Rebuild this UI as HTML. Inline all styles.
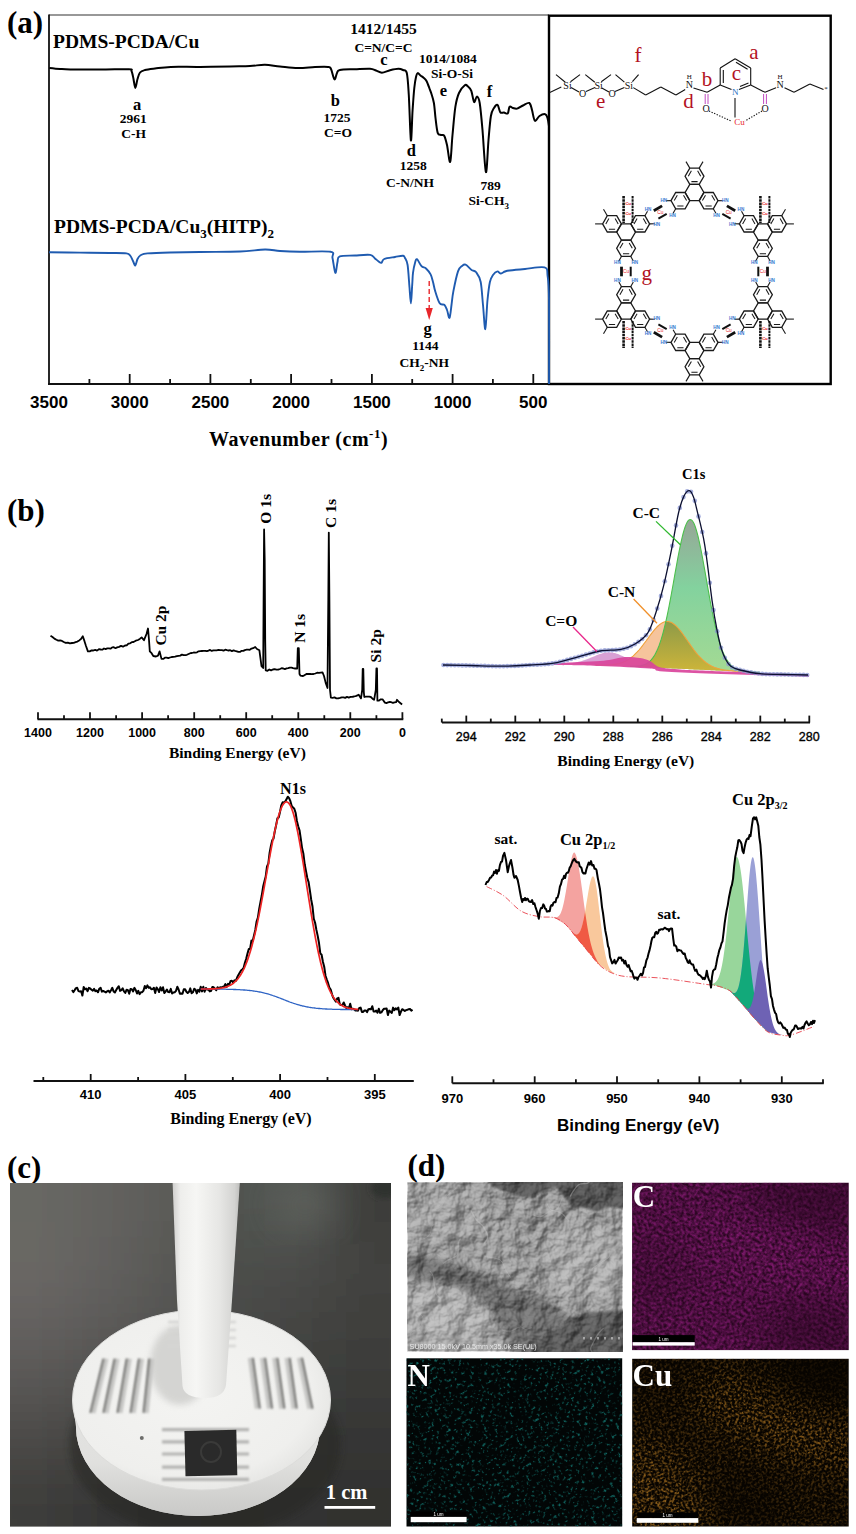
<!DOCTYPE html>
<html><head><meta charset="utf-8"><title>Figure</title>
<style>html,body{margin:0;padding:0;background:#fff;}body{width:856px;height:1534px;overflow:hidden;}
svg{display:block;}</style></head>
<body><svg width="856" height="1534" viewBox="0 0 856 1534">
<rect width="856" height="1534" fill="#fff"/>
<text x="7" y="33" font-family='"Liberation Serif", serif' font-size="31" font-weight="bold" text-anchor="start" fill="#000" >(a)</text>
<line x1="49" y1="15" x2="549" y2="15" stroke="#333" stroke-width="1.1"/>
<line x1="49" y1="14.5" x2="49" y2="385" stroke="#111" stroke-width="1.8"/>
<line x1="48" y1="384" x2="549" y2="384" stroke="#111" stroke-width="1.8"/>
<rect x="549" y="15.7" width="281.7" height="368.3" fill="none" stroke="#000" stroke-width="2.4"/>
<line x1="89.4" y1="379" x2="89.4" y2="384" stroke="#111" stroke-width="1.8"/>
<line x1="129.7" y1="374" x2="129.7" y2="384" stroke="#111" stroke-width="1.8"/>
<line x1="170.1" y1="379" x2="170.1" y2="384" stroke="#111" stroke-width="1.8"/>
<line x1="210.4" y1="374" x2="210.4" y2="384" stroke="#111" stroke-width="1.8"/>
<line x1="250.8" y1="379" x2="250.8" y2="384" stroke="#111" stroke-width="1.8"/>
<line x1="291.1" y1="374" x2="291.1" y2="384" stroke="#111" stroke-width="1.8"/>
<line x1="331.5" y1="379" x2="331.5" y2="384" stroke="#111" stroke-width="1.8"/>
<line x1="371.9" y1="374" x2="371.9" y2="384" stroke="#111" stroke-width="1.8"/>
<line x1="412.2" y1="379" x2="412.2" y2="384" stroke="#111" stroke-width="1.8"/>
<line x1="452.6" y1="374" x2="452.6" y2="384" stroke="#111" stroke-width="1.8"/>
<line x1="492.9" y1="379" x2="492.9" y2="384" stroke="#111" stroke-width="1.8"/>
<line x1="533.3" y1="374" x2="533.3" y2="384" stroke="#111" stroke-width="1.8"/>
<text x="49" y="407.7" font-family='"Liberation Sans", sans-serif' font-size="17" font-weight="bold" text-anchor="middle" fill="#000" >3500</text>
<text x="129.7" y="407.7" font-family='"Liberation Sans", sans-serif' font-size="17" font-weight="bold" text-anchor="middle" fill="#000" >3000</text>
<text x="210.4" y="407.7" font-family='"Liberation Sans", sans-serif' font-size="17" font-weight="bold" text-anchor="middle" fill="#000" >2500</text>
<text x="291.1" y="407.7" font-family='"Liberation Sans", sans-serif' font-size="17" font-weight="bold" text-anchor="middle" fill="#000" >2000</text>
<text x="371.9" y="407.7" font-family='"Liberation Sans", sans-serif' font-size="17" font-weight="bold" text-anchor="middle" fill="#000" >1500</text>
<text x="452.6" y="407.7" font-family='"Liberation Sans", sans-serif' font-size="17" font-weight="bold" text-anchor="middle" fill="#000" >1000</text>
<text x="533.3" y="407.7" font-family='"Liberation Sans", sans-serif' font-size="17" font-weight="bold" text-anchor="middle" fill="#000" >500</text>
<text x="209" y="446" font-family='"Liberation Serif", serif' font-size="20" font-weight="bold" text-anchor="start" fill="#000" letter-spacing="0.55">Wavenumber (cm<tspan dy="-8" font-size="13">-1</tspan><tspan dy="8">)</tspan></text>
<path d="M49.3 68 C51.1 68.2 56.5 68.8 60 69 C63.5 69.2 63.7 69.3 70.4 69.4 C77.1 69.5 90.3 69.6 100 69.6 C109.7 69.6 123.6 69 128.8 69.2 C134.1 69.4 130.7 69.4 131.5 71 C132.3 72.6 132.9 76.2 133.5 79 C134.1 81.8 134.6 87.9 135.3 87.9 C136 87.9 136.7 81.6 137.5 79 C138.3 76.4 138.8 74 140 72.5 C141.2 71 142.5 70.7 145 70 C147.5 69.3 150.7 69 155 68.5 C159.3 68 163.3 67.2 170.8 66.9 C178.3 66.6 190.1 67 200 66.9 C209.9 66.8 221.7 66.6 230 66.4 C238.3 66.2 244.2 66.3 250 66 C255.8 65.7 260 64.7 265 64.8 C270 64.9 274.5 66 280 66.5 C285.5 67 292 67.9 297.8 68 C303.6 68.1 310 67.2 315 67 C320 66.8 325.3 66.6 328 66.9 C330.7 67.2 329.9 66.9 331 69 C332.1 71.1 333.4 78.6 334.4 79.3 C335.4 80 336.1 74.6 337 73 C337.9 71.4 336.8 70.5 339.8 69.9 C342.8 69.3 350 69.4 355 69.2 C360 69 366.5 68.5 370 68.7 C373.5 68.9 374 69.8 376 70.5 C378 71.2 379.6 72.7 381.9 72.7 C384.2 72.7 387.2 71 390 70.3 C392.8 69.6 396.2 68.8 398.4 68.8 C400.6 68.8 401.6 69.3 403 70 C404.4 70.7 405.8 68.8 406.8 73 C407.8 77.2 408.1 83.8 408.8 95 C409.5 106.2 410.3 137.9 410.9 140.4 C411.5 142.9 412 118.7 412.6 110 C413.2 101.3 413.7 93.5 414.3 88 C414.9 82.5 415.4 79.5 416 77 C416.6 74.5 416.9 73.3 417.7 73.1 C418.4 72.8 419.5 74.7 420.5 75.5 C421.5 76.3 422.6 76.9 423.6 77.8 C424.6 78.7 425.6 79.3 426.5 81 C427.4 82.7 428.5 85.8 429.3 88 C430.1 90.2 430.7 91.5 431.5 94 C432.3 96.5 433.2 99 433.9 103 C434.6 107 434.9 113 435.5 118 C436.1 123 436.8 130.1 437.7 132.9 C438.6 135.7 439.9 134.5 441 135 C442.1 135.5 443.2 134 444.2 135.7 C445.2 137.4 446 140.6 447 145 C448 149.4 449.3 163.6 450.2 161.9 C451.1 160.2 451.6 144.2 452.5 135 C453.4 125.8 454.3 113.7 455.4 106.7 C456.5 99.7 457.4 96.6 459 93 C460.6 89.4 463.3 86.3 464.8 85.2 C466.3 84.1 466.9 85.6 468 86.5 C469.1 87.4 470.3 88.2 471.3 90.8 C472.3 93.4 473.2 101.1 474.1 102 C475 102.9 476 96.2 476.9 96.4 C477.8 96.6 478.8 97.4 479.7 103 C480.6 108.6 481.5 118.5 482.5 130 C483.5 141.5 484.9 170.4 485.9 172.1 C486.9 173.8 487.7 149.3 488.5 140 C489.3 130.7 490 121.3 490.9 116 C491.8 110.7 492.9 109.8 494 108 C495.1 106.2 496.4 104.2 497.5 104.9 C498.6 105.6 499.2 111 500.3 112.3 C501.4 113.6 502.8 112.3 504 112.5 C505.2 112.7 506.9 114.3 507.8 113.3 C508.7 112.3 508.7 107.6 509.6 106.7 C510.5 105.8 511.8 107.7 513 108 C514.2 108.3 515.4 109 517.1 108.6 C518.8 108.2 521 106.4 523 105.5 C525 104.6 527.8 102.2 529.3 103 C530.8 103.8 531.1 107 532 110 C532.9 113 533.6 119.7 534.9 120.7 C536.1 121.7 537.8 117.1 539.5 116 C541.2 114.9 543.8 113.9 545.1 114.2 C546.4 114.5 546.9 116 547.5 118 C548.1 120 548.8 124.7 549 126" fill="none" stroke="#000" stroke-width="2" stroke-linejoin="round"/>
<path d="M49 252.2 C54.2 252.3 69.8 252.5 80 252.6 C90.2 252.7 102.3 252.9 110 253 C117.7 253.1 123 252.9 126.4 253.4 C129.8 253.9 129.4 254.7 130.5 256 C131.6 257.3 132.2 259.4 133 261 C133.8 262.6 134.6 265.8 135.3 265.5 C136.1 265.2 136.6 260.8 137.5 259 C138.4 257.2 139.3 255.9 141 255 C142.7 254.1 142.7 253.8 147.5 253.4 C152.3 253 161.2 252.7 170 252.5 C178.8 252.3 188.3 252.2 200 252 C211.7 251.8 229.2 251.9 240 251.5 C250.8 251.1 258.3 249.6 265 249.5 C271.7 249.4 274.2 250.6 280 251 C285.8 251.4 291.6 251.7 300 251.8 C308.4 251.9 325.1 250.8 330.5 251.8 C335.9 252.8 331.7 254.5 332.5 258 C333.3 261.5 334.5 272.2 335.3 272.9 C336.1 273.6 336.8 264.8 337.5 262 C338.2 259.2 336.9 257.5 339.8 256.4 C342.7 255.3 349.9 255.8 355 255.5 C360.1 255.2 366.9 254.4 370.2 254.9 C373.5 255.4 373.6 257.4 374.9 258.4 C376.2 259.4 376.9 260.3 378 261 C379.1 261.7 380.4 263.1 381.4 262.8 C382.4 262.5 381.9 260 384.2 259 C386.5 258 391.9 257.5 395 257 C398.1 256.5 401.2 255.6 402.9 255.8 C404.6 256 404.2 256.5 405 258 C405.8 259.5 406.9 260.5 407.6 265 C408.3 269.5 408.8 278.6 409.3 285 C409.9 291.4 410.4 303.3 410.9 303.3 C411.4 303.3 411.8 290.1 412.2 285 C412.6 279.9 412.5 276.6 413 272.9 C413.5 269.2 414.3 265.3 415 263 C415.7 260.7 415.9 258.7 417 259.2 C418.1 259.7 420 264.6 421.5 266.2 C423 267.8 424.5 267.1 426 268.5 C427.5 269.9 429.4 272.1 430.6 274.4 C431.8 276.6 432.2 279.2 433 282 C433.8 284.8 434.1 287.6 435.2 291.1 C436.3 294.7 438.2 301 439.7 303.3 C441.2 305.6 443.1 303.7 444.3 304.8 C445.5 305.9 446.1 307.8 447 310 C447.9 312.2 448.8 318.7 449.5 317.9 C450.2 317.1 450.9 309.5 451.5 305 C452.1 300.5 452.3 296.7 453.4 291.1 C454.5 285.5 456.6 275.6 458 271.4 C459.4 267.2 460.7 267.1 462 266 C463.3 264.9 464 264.1 465.6 264.7 C467.2 265.3 469.8 268.6 471.6 269.9 C473.4 271.2 474.7 270.3 476.2 272.3 C477.7 274.3 479.6 276.6 480.7 282 C481.8 287.4 482.2 297.1 483 305 C483.8 312.9 484.6 329.9 485.3 329.1 C486.1 328.3 486.7 307.9 487.5 300 C488.3 292.1 489 286.2 489.9 282 C490.8 277.8 491.8 276.8 493 275 C494.2 273.2 496.1 271.6 497.4 271.4 C498.6 271.1 499.2 273.5 500.5 273.5 C501.8 273.5 503.5 272 505 271.5 C506.5 271 506.3 270.9 509.6 270.5 C512.9 270.1 519.2 269.5 525 269 C530.8 268.5 540.7 266.2 544.5 267.4 C548.3 268.6 546.9 270.6 547.6 276 C548.4 281.4 548.8 282 549 300 C549.2 318 549 370 549 384" fill="none" stroke="#1f5bb0" stroke-width="1.9" stroke-linejoin="round"/>
<line x1="429.2" y1="281" x2="429.2" y2="311" stroke="#e8262b" stroke-width="1.4" stroke-dasharray="5 3"/>
<path d="M425.6 308 L432.8 308 L429.2 320 Z" fill="#e8262b"/>
<text x="53" y="47.6" font-family='"Liberation Serif", serif' font-size="19.5" font-weight="bold" text-anchor="start" fill="#000" >PDMS-PCDA/Cu</text>
<text x="54" y="232.5" font-family='"Liberation Serif", serif' font-size="19.5" font-weight="bold" text-anchor="start" fill="#000" >PDMS-PCDA/Cu<tspan dy="5" font-size="13">3</tspan><tspan dy="-5">(HITP)</tspan><tspan dy="5" font-size="13">2</tspan></text>
<text x="137" y="109.6" font-family='"Liberation Serif", serif' font-size="16.5" font-weight="bold" text-anchor="middle" fill="#000" >a</text>
<text x="133.2" y="123.2" font-family='"Liberation Serif", serif' font-size="13.5" font-weight="bold" text-anchor="middle" fill="#000" >2961</text>
<text x="133.6" y="137.7" font-family='"Liberation Serif", serif' font-size="13.5" font-weight="bold" text-anchor="middle" fill="#000" >C-H</text>
<text x="335.4" y="105.7" font-family='"Liberation Serif", serif' font-size="16.5" font-weight="bold" text-anchor="middle" fill="#000" >b</text>
<text x="337" y="121.5" font-family='"Liberation Serif", serif' font-size="13.5" font-weight="bold" text-anchor="middle" fill="#000" >1725</text>
<text x="338" y="137.3" font-family='"Liberation Serif", serif' font-size="13.5" font-weight="bold" text-anchor="middle" fill="#000" >C=O</text>
<text x="383.5" y="34" font-family='"Liberation Serif", serif' font-size="15.5" font-weight="bold" text-anchor="middle" fill="#000" >1412/1455</text>
<text x="383.5" y="52.2" font-family='"Liberation Serif", serif' font-size="13.5" font-weight="bold" text-anchor="middle" fill="#000" >C=N/C=C</text>
<text x="383.8" y="64.7" font-family='"Liberation Serif", serif' font-size="16.5" font-weight="bold" text-anchor="middle" fill="#000" >c</text>
<text x="448" y="62.9" font-family='"Liberation Serif", serif' font-size="13.5" font-weight="bold" text-anchor="middle" fill="#000" >1014/1084</text>
<text x="452" y="77.5" font-family='"Liberation Serif", serif' font-size="13.5" font-weight="bold" text-anchor="middle" fill="#000" >Si-O-Si</text>
<text x="443.5" y="95.7" font-family='"Liberation Serif", serif' font-size="16.5" font-weight="bold" text-anchor="middle" fill="#000" >e</text>
<text x="489.4" y="97.2" font-family='"Liberation Serif", serif' font-size="16.5" font-weight="bold" text-anchor="middle" fill="#000" >f</text>
<text x="411.4" y="155.5" font-family='"Liberation Serif", serif' font-size="16.5" font-weight="bold" text-anchor="middle" fill="#000" >d</text>
<text x="413.2" y="170.1" font-family='"Liberation Serif", serif' font-size="13.5" font-weight="bold" text-anchor="middle" fill="#000" >1258</text>
<text x="410" y="186.8" font-family='"Liberation Serif", serif' font-size="13.5" font-weight="bold" text-anchor="middle" fill="#000" >C-N/NH</text>
<text x="490.6" y="189.9" font-family='"Liberation Serif", serif' font-size="13.5" font-weight="bold" text-anchor="middle" fill="#000" >789</text>
<text x="468.6" y="205" font-family='"Liberation Serif", serif' font-size="13.5" font-weight="bold" text-anchor="start" fill="#000" >Si-CH<tspan dy="4" font-size="9">3</tspan></text>
<text x="427.6" y="333.6" font-family='"Liberation Serif", serif' font-size="16.5" font-weight="bold" text-anchor="middle" fill="#000" >g</text>
<text x="425.3" y="349.5" font-family='"Liberation Serif", serif' font-size="13.5" font-weight="bold" text-anchor="middle" fill="#000" >1144</text>
<text x="399.6" y="366.5" font-family='"Liberation Serif", serif' font-size="13.5" font-weight="bold" text-anchor="start" fill="#000" >CH<tspan dy="4" font-size="9">2</tspan><tspan dy="-4">-NH</tspan></text>
<line x1="549.8" y1="92.4" x2="561.3" y2="87.1" stroke="#111" stroke-width="1.1" />
<line x1="556" y1="74.6" x2="565.3" y2="82.2" stroke="#111" stroke-width="1.1" />
<line x1="570.5" y1="81.7" x2="580" y2="74.6" stroke="#111" stroke-width="1.1" />
<line x1="585.3" y1="74.6" x2="594.8" y2="82.2" stroke="#111" stroke-width="1.1" />
<line x1="601.3" y1="81.7" x2="611" y2="74.6" stroke="#111" stroke-width="1.1" />
<line x1="615.5" y1="74.6" x2="624.4" y2="82.2" stroke="#111" stroke-width="1.1" />
<line x1="632.4" y1="81.7" x2="638.6" y2="74.6" stroke="#111" stroke-width="1.1" />
<line x1="571.1" y1="87.6" x2="579" y2="92" stroke="#111" stroke-width="1.1" />
<line x1="586" y1="91.5" x2="595" y2="87.6" stroke="#111" stroke-width="1.1" />
<line x1="601.8" y1="88" x2="609" y2="92" stroke="#111" stroke-width="1.1" />
<line x1="615" y1="91.5" x2="624.4" y2="87.6" stroke="#111" stroke-width="1.1" />
<line x1="633.3" y1="87.6" x2="645.7" y2="95" stroke="#111" stroke-width="1.1" />
<line x1="645.7" y1="95" x2="660.8" y2="87" stroke="#111" stroke-width="1.1" />
<line x1="660.8" y1="87" x2="675.9" y2="95" stroke="#111" stroke-width="1.1" />
<line x1="675.9" y1="95" x2="685.2" y2="89.5" stroke="#111" stroke-width="1.1" />
<line x1="693.5" y1="88" x2="707.1" y2="92.3" stroke="#111" stroke-width="1.1" />
<line x1="707.1" y1="92.3" x2="720.2" y2="84.9" stroke="#111" stroke-width="1.1" />
<line x1="720.2" y1="84.9" x2="720.2" y2="68" stroke="#111" stroke-width="1.1" />
<line x1="720.2" y1="68" x2="735.1" y2="58.7" stroke="#111" stroke-width="1.1" />
<line x1="735.1" y1="58.7" x2="750.7" y2="68" stroke="#111" stroke-width="1.1" />
<line x1="750.7" y1="68" x2="750.7" y2="84.9" stroke="#111" stroke-width="1.1" />
<line x1="720.2" y1="84.9" x2="731.5" y2="89.5" stroke="#111" stroke-width="1.1" />
<line x1="739" y1="89.5" x2="750.7" y2="84.9" stroke="#111" stroke-width="1.1" />
<line x1="723.3" y1="70" x2="723.3" y2="83" stroke="#111" stroke-width="1.1" />
<line x1="736" y1="62.3" x2="747.6" y2="69.3" stroke="#111" stroke-width="1.1" />
<line x1="740" y1="86.5" x2="748.5" y2="83" stroke="#111" stroke-width="1.1" />
<line x1="750.7" y1="84.9" x2="765" y2="92.3" stroke="#111" stroke-width="1.1" />
<line x1="765" y1="92.3" x2="776" y2="87.8" stroke="#111" stroke-width="1.1" />
<line x1="784.5" y1="87.8" x2="794" y2="92.3" stroke="#111" stroke-width="1.1" />
<line x1="794" y1="92.3" x2="809.9" y2="83.9" stroke="#111" stroke-width="1.1" />
<line x1="809.9" y1="83.9" x2="823.5" y2="89.5" stroke="#111" stroke-width="1.1" />
<line x1="735" y1="98" x2="735" y2="117.5" stroke="#111" stroke-width="1.1" />
<line x1="705.2" y1="94" x2="705.2" y2="104" stroke="#c04bc0" stroke-width="1" />
<line x1="708" y1="94" x2="708" y2="104" stroke="#c04bc0" stroke-width="1" />
<line x1="763.6" y1="94" x2="763.6" y2="104" stroke="#c04bc0" stroke-width="1" />
<line x1="766.4" y1="94" x2="766.4" y2="104" stroke="#c04bc0" stroke-width="1" />
<line x1="709" y1="111" x2="731" y2="121" stroke="#111" stroke-width="1.1" stroke-dasharray="1.3 1.5"/>
<line x1="762" y1="111" x2="745" y2="121" stroke="#111" stroke-width="1.1" stroke-dasharray="1.3 1.5"/>
<text x="567.5" y="88.8" font-family='"Liberation Serif", serif' font-size="10" font-weight="normal" text-anchor="middle" fill="#111" >Si</text>
<text x="598.6" y="88.8" font-family='"Liberation Serif", serif' font-size="10" font-weight="normal" text-anchor="middle" fill="#111" >Si</text>
<text x="628.8" y="88.8" font-family='"Liberation Serif", serif' font-size="10" font-weight="normal" text-anchor="middle" fill="#111" >Si</text>
<text x="582.6" y="96.8" font-family='"Liberation Serif", serif' font-size="10" font-weight="normal" text-anchor="middle" fill="#111" >O</text>
<text x="612" y="96.8" font-family='"Liberation Serif", serif' font-size="10" font-weight="normal" text-anchor="middle" fill="#111" >O</text>
<text x="689.3" y="88.3" font-family='"Liberation Serif", serif' font-size="10" font-weight="normal" text-anchor="middle" fill="#111" >N</text>
<text x="689.3" y="79" font-family='"Liberation Serif", serif' font-size="7" font-weight="normal" text-anchor="middle" fill="#111" >H</text>
<text x="780" y="88.3" font-family='"Liberation Serif", serif' font-size="10" font-weight="normal" text-anchor="middle" fill="#111" >N</text>
<text x="780" y="79" font-family='"Liberation Serif", serif' font-size="7" font-weight="normal" text-anchor="middle" fill="#111" >H</text>
<text x="735.2" y="94.5" font-family='"Liberation Serif", serif' font-size="9" font-weight="normal" text-anchor="middle" fill="#2a6fc0" >N</text>
<text x="706.2" y="111.5" font-family='"Liberation Serif", serif' font-size="10" font-weight="normal" text-anchor="middle" fill="#111" >O</text>
<text x="765" y="111.5" font-family='"Liberation Serif", serif' font-size="10" font-weight="normal" text-anchor="middle" fill="#111" >O</text>
<text x="739.5" y="124.8" font-family='"Liberation Serif", serif' font-size="9" font-weight="normal" text-anchor="middle" fill="#e8262b" >Cu</text>
<text x="826" y="91" font-family='"Liberation Serif", serif' font-size="7" font-weight="normal" text-anchor="middle" fill="#111" >*</text>
<text x="638" y="62.2" font-family='"Liberation Serif", serif' font-size="21" font-weight="normal" text-anchor="middle" fill="#b3121f" >f</text>
<text x="600.6" y="108.4" font-family='"Liberation Serif", serif' font-size="21" font-weight="normal" text-anchor="middle" fill="#b3121f" >e</text>
<text x="688.4" y="107.5" font-family='"Liberation Serif", serif' font-size="21" font-weight="normal" text-anchor="middle" fill="#b3121f" >d</text>
<text x="707.1" y="85.8" font-family='"Liberation Serif", serif' font-size="21" font-weight="normal" text-anchor="middle" fill="#b3121f" >b</text>
<text x="753.8" y="58.7" font-family='"Liberation Serif", serif' font-size="21" font-weight="normal" text-anchor="middle" fill="#b3121f" >a</text>
<text x="736.5" y="80.2" font-family='"Liberation Serif", serif' font-size="21" font-weight="normal" text-anchor="middle" fill="#b3121f" >c</text>
<g><path d="M703.9 192.5 L699.2 184.4 L689.8 184.4 L685.1 192.5 L689.8 200.6 L699.2 200.6 Z" fill="none" stroke="#1a1a1a" stroke-width="1.3"/><path d="M703.9 176.2 L699.2 168.1 L689.8 168.1 L685.1 176.2 L689.8 184.4 L699.2 184.4 Z" fill="none" stroke="#1a1a1a" stroke-width="1.3"/><path d="M700.7 176.2 L697.6 170.8 M691.4 170.8 L688.3 176.2 M691.4 181.6 L697.6 181.6 " stroke="#1a1a1a" stroke-width="1.05"/><path d="M689.8 200.6 L685.1 192.5 L675.7 192.5 L671 200.6 L675.7 208.8 L685.1 208.8 Z" fill="none" stroke="#1a1a1a" stroke-width="1.3"/><path d="M686.6 200.6 L683.5 195.3 M677.3 195.3 L674.2 200.6 M677.3 206 L683.5 206 " stroke="#1a1a1a" stroke-width="1.05"/><path d="M718 200.6 L713.3 192.5 L703.9 192.5 L699.2 200.6 L703.9 208.8 L713.3 208.8 Z" fill="none" stroke="#1a1a1a" stroke-width="1.3"/><path d="M714.8 200.6 L711.7 195.3 M705.5 195.3 L702.4 200.6 M705.5 206 L711.7 206 " stroke="#1a1a1a" stroke-width="1.05"/><line x1="689.8" y1="168.1" x2="686" y2="161.6" stroke="#1a1a1a" stroke-width="1.1"/><line x1="699.2" y1="168.1" x2="703" y2="161.6" stroke="#1a1a1a" stroke-width="1.1"/><path d="M635.5 232 L630.8 223.9 L621.4 223.9 L616.7 232 L621.4 240.1 L630.8 240.1 Z" fill="none" stroke="#1a1a1a" stroke-width="1.3"/><path d="M621.4 223.9 L616.7 215.7 L607.3 215.7 L602.6 223.9 L607.3 232 L616.7 232 Z" fill="none" stroke="#1a1a1a" stroke-width="1.3"/><path d="M618.2 223.9 L615.1 218.5 M608.9 218.5 L605.8 223.9 M608.9 229.2 L615.1 229.2 " stroke="#1a1a1a" stroke-width="1.05"/><path d="M635.5 248.3 L630.8 240.1 L621.4 240.1 L616.7 248.3 L621.4 256.4 L630.8 256.4 Z" fill="none" stroke="#1a1a1a" stroke-width="1.3"/><path d="M632.3 248.3 L629.2 242.9 M623 242.9 L619.9 248.3 M623 253.7 L629.2 253.7 " stroke="#1a1a1a" stroke-width="1.05"/><path d="M649.6 223.9 L644.9 215.7 L635.5 215.7 L630.8 223.9 L635.5 232 L644.9 232 Z" fill="none" stroke="#1a1a1a" stroke-width="1.3"/><path d="M646.4 223.9 L643.3 218.5 M637.1 218.5 L634 223.9 M637.1 229.2 L643.3 229.2 " stroke="#1a1a1a" stroke-width="1.05"/><line x1="602.6" y1="223.9" x2="595.1" y2="223.9" stroke="#1a1a1a" stroke-width="1.1"/><line x1="607.3" y1="215.7" x2="603.5" y2="209.2" stroke="#1a1a1a" stroke-width="1.1"/><line x1="623.6" y1="196" x2="623.6" y2="223" stroke="#111" stroke-width="2.6" stroke-dasharray="2.5 0.7"/><text x="628.1" y="205" font-family='"Liberation Sans", sans-serif' font-size="4.2" font-weight="normal" text-anchor="middle" fill="#e8262b" >Cu</text><text x="628.1" y="215" font-family='"Liberation Sans", sans-serif' font-size="4.2" font-weight="normal" text-anchor="middle" fill="#e8262b" >Cu</text><line x1="632.6" y1="196" x2="632.6" y2="223" stroke="#111" stroke-width="2.0" stroke-dasharray="2.5 0.7"/><text x="628.1" y="205" font-family='"Liberation Sans", sans-serif' font-size="4.2" font-weight="normal" text-anchor="middle" fill="#e8262b" >Cu</text><text x="628.1" y="215" font-family='"Liberation Sans", sans-serif' font-size="4.2" font-weight="normal" text-anchor="middle" fill="#e8262b" >Cu</text><path d="M635.5 311 L630.8 302.9 L621.4 302.9 L616.7 311 L621.4 319.1 L630.8 319.1 Z" fill="none" stroke="#1a1a1a" stroke-width="1.3"/><path d="M621.4 319.1 L616.7 311 L607.3 311 L602.6 319.1 L607.3 327.3 L616.7 327.3 Z" fill="none" stroke="#1a1a1a" stroke-width="1.3"/><path d="M618.2 319.1 L615.1 313.8 M608.9 313.8 L605.8 319.1 M608.9 324.5 L615.1 324.5 " stroke="#1a1a1a" stroke-width="1.05"/><path d="M649.6 319.1 L644.9 311 L635.5 311 L630.8 319.1 L635.5 327.3 L644.9 327.3 Z" fill="none" stroke="#1a1a1a" stroke-width="1.3"/><path d="M646.4 319.1 L643.3 313.8 M637.1 313.8 L634 319.1 M637.1 324.5 L643.3 324.5 " stroke="#1a1a1a" stroke-width="1.05"/><path d="M635.5 294.7 L630.8 286.6 L621.4 286.6 L616.7 294.7 L621.4 302.9 L630.8 302.9 Z" fill="none" stroke="#1a1a1a" stroke-width="1.3"/><path d="M632.3 294.7 L629.2 289.3 M623 289.3 L619.9 294.7 M623 300.1 L629.2 300.1 " stroke="#1a1a1a" stroke-width="1.05"/><line x1="607.3" y1="327.3" x2="603.5" y2="333.8" stroke="#1a1a1a" stroke-width="1.1"/><line x1="602.6" y1="319.1" x2="595.1" y2="319.1" stroke="#1a1a1a" stroke-width="1.1"/><line x1="623.6" y1="321" x2="623.6" y2="348" stroke="#111" stroke-width="2.6" stroke-dasharray="2.5 0.7"/><text x="628.1" y="330" font-family='"Liberation Sans", sans-serif' font-size="4.2" font-weight="normal" text-anchor="middle" fill="#e8262b" >Cu</text><text x="628.1" y="340" font-family='"Liberation Sans", sans-serif' font-size="4.2" font-weight="normal" text-anchor="middle" fill="#e8262b" >Cu</text><line x1="632.6" y1="321" x2="632.6" y2="348" stroke="#111" stroke-width="2.0" stroke-dasharray="2.5 0.7"/><text x="628.1" y="330" font-family='"Liberation Sans", sans-serif' font-size="4.2" font-weight="normal" text-anchor="middle" fill="#e8262b" >Cu</text><text x="628.1" y="340" font-family='"Liberation Sans", sans-serif' font-size="4.2" font-weight="normal" text-anchor="middle" fill="#e8262b" >Cu</text><path d="M703.9 350.5 L699.2 342.4 L689.8 342.4 L685.1 350.5 L689.8 358.6 L699.2 358.6 Z" fill="none" stroke="#1a1a1a" stroke-width="1.3"/><path d="M703.9 366.8 L699.2 358.6 L689.8 358.6 L685.1 366.8 L689.8 374.9 L699.2 374.9 Z" fill="none" stroke="#1a1a1a" stroke-width="1.3"/><path d="M700.7 366.8 L697.6 361.4 M691.4 361.4 L688.3 366.8 M691.4 372.2 L697.6 372.2 " stroke="#1a1a1a" stroke-width="1.05"/><path d="M718 342.4 L713.3 334.2 L703.9 334.2 L699.2 342.4 L703.9 350.5 L713.3 350.5 Z" fill="none" stroke="#1a1a1a" stroke-width="1.3"/><path d="M714.8 342.4 L711.7 337 M705.5 337 L702.4 342.4 M705.5 347.7 L711.7 347.7 " stroke="#1a1a1a" stroke-width="1.05"/><path d="M689.8 342.4 L685.1 334.2 L675.7 334.2 L671 342.4 L675.7 350.5 L685.1 350.5 Z" fill="none" stroke="#1a1a1a" stroke-width="1.3"/><path d="M686.6 342.4 L683.5 337 M677.3 337 L674.2 342.4 M677.3 347.7 L683.5 347.7 " stroke="#1a1a1a" stroke-width="1.05"/><line x1="699.2" y1="374.9" x2="703" y2="381.4" stroke="#1a1a1a" stroke-width="1.1"/><line x1="689.8" y1="374.9" x2="686" y2="381.4" stroke="#1a1a1a" stroke-width="1.1"/><path d="M772.3 311 L767.6 302.9 L758.2 302.9 L753.5 311 L758.2 319.1 L767.6 319.1 Z" fill="none" stroke="#1a1a1a" stroke-width="1.3"/><path d="M786.4 319.1 L781.7 311 L772.3 311 L767.6 319.1 L772.3 327.3 L781.7 327.3 Z" fill="none" stroke="#1a1a1a" stroke-width="1.3"/><path d="M783.2 319.1 L780.1 313.8 M773.9 313.8 L770.8 319.1 M773.9 324.5 L780.1 324.5 " stroke="#1a1a1a" stroke-width="1.05"/><path d="M772.3 294.7 L767.6 286.6 L758.2 286.6 L753.5 294.7 L758.2 302.9 L767.6 302.9 Z" fill="none" stroke="#1a1a1a" stroke-width="1.3"/><path d="M769.1 294.7 L766 289.3 M759.8 289.3 L756.7 294.7 M759.8 300.1 L766 300.1 " stroke="#1a1a1a" stroke-width="1.05"/><path d="M758.2 319.1 L753.5 311 L744.1 311 L739.4 319.1 L744.1 327.3 L753.5 327.3 Z" fill="none" stroke="#1a1a1a" stroke-width="1.3"/><path d="M755 319.1 L751.9 313.8 M745.7 313.8 L742.6 319.1 M745.7 324.5 L751.9 324.5 " stroke="#1a1a1a" stroke-width="1.05"/><line x1="786.4" y1="319.1" x2="793.9" y2="319.1" stroke="#1a1a1a" stroke-width="1.1"/><line x1="781.7" y1="327.3" x2="785.5" y2="333.8" stroke="#1a1a1a" stroke-width="1.1"/><line x1="760.4" y1="321" x2="760.4" y2="348" stroke="#111" stroke-width="2.6" stroke-dasharray="2.5 0.7"/><text x="764.9" y="330" font-family='"Liberation Sans", sans-serif' font-size="4.2" font-weight="normal" text-anchor="middle" fill="#e8262b" >Cu</text><text x="764.9" y="340" font-family='"Liberation Sans", sans-serif' font-size="4.2" font-weight="normal" text-anchor="middle" fill="#e8262b" >Cu</text><line x1="769.4" y1="321" x2="769.4" y2="348" stroke="#111" stroke-width="2.0" stroke-dasharray="2.5 0.7"/><text x="764.9" y="330" font-family='"Liberation Sans", sans-serif' font-size="4.2" font-weight="normal" text-anchor="middle" fill="#e8262b" >Cu</text><text x="764.9" y="340" font-family='"Liberation Sans", sans-serif' font-size="4.2" font-weight="normal" text-anchor="middle" fill="#e8262b" >Cu</text><path d="M772.3 232 L767.6 223.9 L758.2 223.9 L753.5 232 L758.2 240.1 L767.6 240.1 Z" fill="none" stroke="#1a1a1a" stroke-width="1.3"/><path d="M786.4 223.9 L781.7 215.7 L772.3 215.7 L767.6 223.9 L772.3 232 L781.7 232 Z" fill="none" stroke="#1a1a1a" stroke-width="1.3"/><path d="M783.2 223.9 L780.1 218.5 M773.9 218.5 L770.8 223.9 M773.9 229.2 L780.1 229.2 " stroke="#1a1a1a" stroke-width="1.05"/><path d="M758.2 223.9 L753.5 215.7 L744.1 215.7 L739.4 223.9 L744.1 232 L753.5 232 Z" fill="none" stroke="#1a1a1a" stroke-width="1.3"/><path d="M755 223.9 L751.9 218.5 M745.7 218.5 L742.6 223.9 M745.7 229.2 L751.9 229.2 " stroke="#1a1a1a" stroke-width="1.05"/><path d="M772.3 248.3 L767.6 240.1 L758.2 240.1 L753.5 248.3 L758.2 256.4 L767.6 256.4 Z" fill="none" stroke="#1a1a1a" stroke-width="1.3"/><path d="M769.1 248.3 L766 242.9 M759.8 242.9 L756.7 248.3 M759.8 253.7 L766 253.7 " stroke="#1a1a1a" stroke-width="1.05"/><line x1="781.7" y1="215.7" x2="785.5" y2="209.2" stroke="#1a1a1a" stroke-width="1.1"/><line x1="786.4" y1="223.9" x2="793.9" y2="223.9" stroke="#1a1a1a" stroke-width="1.1"/><line x1="760.4" y1="196" x2="760.4" y2="223" stroke="#111" stroke-width="2.6" stroke-dasharray="2.5 0.7"/><text x="764.9" y="205" font-family='"Liberation Sans", sans-serif' font-size="4.2" font-weight="normal" text-anchor="middle" fill="#e8262b" >Cu</text><text x="764.9" y="215" font-family='"Liberation Sans", sans-serif' font-size="4.2" font-weight="normal" text-anchor="middle" fill="#e8262b" >Cu</text><line x1="769.4" y1="196" x2="769.4" y2="223" stroke="#111" stroke-width="2.0" stroke-dasharray="2.5 0.7"/><text x="764.9" y="205" font-family='"Liberation Sans", sans-serif' font-size="4.2" font-weight="normal" text-anchor="middle" fill="#e8262b" >Cu</text><text x="764.9" y="215" font-family='"Liberation Sans", sans-serif' font-size="4.2" font-weight="normal" text-anchor="middle" fill="#e8262b" >Cu</text><line x1="671" y1="200.6" x2="665.9" y2="200.7" stroke="#1a1a1a" stroke-width="1.1"/><text x="663.8" y="201.8" font-family='"Liberation Sans", sans-serif' font-size="4.6" font-weight="bold" text-anchor="middle" fill="#3a78d0" >HN</text><line x1="675.7" y1="208.8" x2="673.1" y2="213.2" stroke="#1a1a1a" stroke-width="1.1"/><text x="672.5" y="216.8" font-family='"Liberation Sans", sans-serif' font-size="4.6" font-weight="bold" text-anchor="middle" fill="#3a78d0" >HN</text><line x1="644.9" y1="215.7" x2="647.5" y2="211.3" stroke="#1a1a1a" stroke-width="1.1"/><text x="648.1" y="210.9" font-family='"Liberation Sans", sans-serif' font-size="4.6" font-weight="bold" text-anchor="middle" fill="#3a78d0" >HN</text><line x1="649.6" y1="223.9" x2="654.7" y2="223.8" stroke="#1a1a1a" stroke-width="1.1"/><text x="656.8" y="225.9" font-family='"Liberation Sans", sans-serif' font-size="4.6" font-weight="bold" text-anchor="middle" fill="#3a78d0" >HN</text><line x1="662.1" y1="205.9" x2="653.8" y2="210.7" stroke="#111" stroke-width="2.8"/><line x1="666.7" y1="213.8" x2="658.4" y2="218.6" stroke="#111" stroke-width="2.0"/><text x="660.3" y="213.9" font-family='"Liberation Sans", sans-serif' font-size="4.8" font-weight="normal" text-anchor="middle" fill="#e8262b" >Cu</text><line x1="621.4" y1="256.4" x2="618.9" y2="260.9" stroke="#1a1a1a" stroke-width="1.1"/><text x="617.4" y="264" font-family='"Liberation Sans", sans-serif' font-size="4.6" font-weight="bold" text-anchor="middle" fill="#3a78d0" >HN</text><line x1="630.8" y1="256.4" x2="633.3" y2="260.9" stroke="#1a1a1a" stroke-width="1.1"/><text x="634.8" y="264" font-family='"Liberation Sans", sans-serif' font-size="4.6" font-weight="bold" text-anchor="middle" fill="#3a78d0" >HN</text><line x1="621.4" y1="286.6" x2="618.9" y2="282.1" stroke="#1a1a1a" stroke-width="1.1"/><text x="617.4" y="282.2" font-family='"Liberation Sans", sans-serif' font-size="4.6" font-weight="bold" text-anchor="middle" fill="#3a78d0" >HN</text><line x1="630.8" y1="286.6" x2="633.3" y2="282.1" stroke="#1a1a1a" stroke-width="1.1"/><text x="634.8" y="282.2" font-family='"Liberation Sans", sans-serif' font-size="4.6" font-weight="bold" text-anchor="middle" fill="#3a78d0" >HN</text><line x1="621.5" y1="266.7" x2="621.5" y2="276.3" stroke="#111" stroke-width="2.8"/><line x1="630.7" y1="266.7" x2="630.7" y2="276.3" stroke="#111" stroke-width="2.0"/><text x="626.1" y="273.2" font-family='"Liberation Sans", sans-serif' font-size="4.8" font-weight="normal" text-anchor="middle" fill="#e8262b" >Cu</text><line x1="644.9" y1="327.3" x2="647.5" y2="331.7" stroke="#1a1a1a" stroke-width="1.1"/><text x="648.1" y="335.3" font-family='"Liberation Sans", sans-serif' font-size="4.6" font-weight="bold" text-anchor="middle" fill="#3a78d0" >HN</text><line x1="649.6" y1="319.1" x2="654.7" y2="319.2" stroke="#1a1a1a" stroke-width="1.1"/><text x="656.8" y="320.3" font-family='"Liberation Sans", sans-serif' font-size="4.6" font-weight="bold" text-anchor="middle" fill="#3a78d0" >HN</text><line x1="671" y1="342.4" x2="665.9" y2="342.3" stroke="#1a1a1a" stroke-width="1.1"/><text x="663.8" y="344.4" font-family='"Liberation Sans", sans-serif' font-size="4.6" font-weight="bold" text-anchor="middle" fill="#3a78d0" >HN</text><line x1="675.7" y1="334.2" x2="673.1" y2="329.8" stroke="#1a1a1a" stroke-width="1.1"/><text x="672.5" y="329.4" font-family='"Liberation Sans", sans-serif' font-size="4.6" font-weight="bold" text-anchor="middle" fill="#3a78d0" >HN</text><line x1="653.8" y1="332.3" x2="662.1" y2="337.1" stroke="#111" stroke-width="2.8"/><line x1="658.4" y1="324.4" x2="666.7" y2="329.2" stroke="#111" stroke-width="2.0"/><text x="660.3" y="332.4" font-family='"Liberation Sans", sans-serif' font-size="4.8" font-weight="normal" text-anchor="middle" fill="#e8262b" >Cu</text><line x1="718" y1="342.4" x2="723.1" y2="342.3" stroke="#1a1a1a" stroke-width="1.1"/><text x="725.2" y="344.4" font-family='"Liberation Sans", sans-serif' font-size="4.6" font-weight="bold" text-anchor="middle" fill="#3a78d0" >HN</text><line x1="713.3" y1="334.2" x2="715.9" y2="329.8" stroke="#1a1a1a" stroke-width="1.1"/><text x="716.5" y="329.4" font-family='"Liberation Sans", sans-serif' font-size="4.6" font-weight="bold" text-anchor="middle" fill="#3a78d0" >HN</text><line x1="744.1" y1="327.3" x2="741.5" y2="331.7" stroke="#1a1a1a" stroke-width="1.1"/><text x="740.9" y="335.3" font-family='"Liberation Sans", sans-serif' font-size="4.6" font-weight="bold" text-anchor="middle" fill="#3a78d0" >HN</text><line x1="739.4" y1="319.1" x2="734.3" y2="319.2" stroke="#1a1a1a" stroke-width="1.1"/><text x="732.2" y="320.3" font-family='"Liberation Sans", sans-serif' font-size="4.6" font-weight="bold" text-anchor="middle" fill="#3a78d0" >HN</text><line x1="726.9" y1="337.1" x2="735.2" y2="332.3" stroke="#111" stroke-width="2.8"/><line x1="722.3" y1="329.2" x2="730.6" y2="324.4" stroke="#111" stroke-width="2.0"/><text x="728.7" y="332.4" font-family='"Liberation Sans", sans-serif' font-size="4.8" font-weight="normal" text-anchor="middle" fill="#e8262b" >Cu</text><line x1="767.6" y1="286.6" x2="770.1" y2="282.1" stroke="#1a1a1a" stroke-width="1.1"/><text x="771.6" y="282.2" font-family='"Liberation Sans", sans-serif' font-size="4.6" font-weight="bold" text-anchor="middle" fill="#3a78d0" >HN</text><line x1="758.2" y1="286.6" x2="755.7" y2="282.1" stroke="#1a1a1a" stroke-width="1.1"/><text x="754.2" y="282.2" font-family='"Liberation Sans", sans-serif' font-size="4.6" font-weight="bold" text-anchor="middle" fill="#3a78d0" >HN</text><line x1="767.6" y1="256.4" x2="770.1" y2="260.9" stroke="#1a1a1a" stroke-width="1.1"/><text x="771.6" y="264" font-family='"Liberation Sans", sans-serif' font-size="4.6" font-weight="bold" text-anchor="middle" fill="#3a78d0" >HN</text><line x1="758.2" y1="256.4" x2="755.7" y2="260.9" stroke="#1a1a1a" stroke-width="1.1"/><text x="754.2" y="264" font-family='"Liberation Sans", sans-serif' font-size="4.6" font-weight="bold" text-anchor="middle" fill="#3a78d0" >HN</text><line x1="767.5" y1="276.3" x2="767.5" y2="266.7" stroke="#111" stroke-width="2.8"/><line x1="758.3" y1="276.3" x2="758.3" y2="266.7" stroke="#111" stroke-width="2.0"/><text x="762.9" y="273.2" font-family='"Liberation Sans", sans-serif' font-size="4.8" font-weight="normal" text-anchor="middle" fill="#e8262b" >Cu</text><line x1="744.1" y1="215.7" x2="741.5" y2="211.3" stroke="#1a1a1a" stroke-width="1.1"/><text x="740.9" y="210.9" font-family='"Liberation Sans", sans-serif' font-size="4.6" font-weight="bold" text-anchor="middle" fill="#3a78d0" >HN</text><line x1="739.4" y1="223.9" x2="734.3" y2="223.8" stroke="#1a1a1a" stroke-width="1.1"/><text x="732.2" y="225.9" font-family='"Liberation Sans", sans-serif' font-size="4.6" font-weight="bold" text-anchor="middle" fill="#3a78d0" >HN</text><line x1="718" y1="200.6" x2="723.1" y2="200.7" stroke="#1a1a1a" stroke-width="1.1"/><text x="725.2" y="201.8" font-family='"Liberation Sans", sans-serif' font-size="4.6" font-weight="bold" text-anchor="middle" fill="#3a78d0" >HN</text><line x1="713.3" y1="208.8" x2="715.9" y2="213.2" stroke="#1a1a1a" stroke-width="1.1"/><text x="716.5" y="216.8" font-family='"Liberation Sans", sans-serif' font-size="4.6" font-weight="bold" text-anchor="middle" fill="#3a78d0" >HN</text><line x1="735.2" y1="210.7" x2="726.9" y2="205.9" stroke="#111" stroke-width="2.8"/><line x1="730.6" y1="218.6" x2="722.3" y2="213.8" stroke="#111" stroke-width="2.0"/><text x="728.7" y="213.9" font-family='"Liberation Sans", sans-serif' font-size="4.8" font-weight="normal" text-anchor="middle" fill="#e8262b" >Cu</text></g>
<text x="646.8" y="280.2" font-family='"Liberation Serif", serif' font-size="21" font-weight="normal" text-anchor="middle" fill="#b3121f" >g</text>
<text x="7" y="521" font-family='"Liberation Serif", serif' font-size="31" font-weight="bold" text-anchor="start" fill="#000" >(b)</text>
<line x1="37.5" y1="719.2" x2="403.3" y2="719.2" stroke="#111" stroke-width="2"/>
<line x1="38" y1="712.2" x2="38" y2="719.2" stroke="#111" stroke-width="1.8"/>
<line x1="64" y1="715.2" x2="64" y2="719.2" stroke="#111" stroke-width="1.8"/>
<line x1="90" y1="712.2" x2="90" y2="719.2" stroke="#111" stroke-width="1.8"/>
<line x1="116.1" y1="715.2" x2="116.1" y2="719.2" stroke="#111" stroke-width="1.8"/>
<line x1="142.1" y1="712.2" x2="142.1" y2="719.2" stroke="#111" stroke-width="1.8"/>
<line x1="168.1" y1="715.2" x2="168.1" y2="719.2" stroke="#111" stroke-width="1.8"/>
<line x1="194.2" y1="712.2" x2="194.2" y2="719.2" stroke="#111" stroke-width="1.8"/>
<line x1="220.2" y1="715.2" x2="220.2" y2="719.2" stroke="#111" stroke-width="1.8"/>
<line x1="246.2" y1="712.2" x2="246.2" y2="719.2" stroke="#111" stroke-width="1.8"/>
<line x1="272.2" y1="715.2" x2="272.2" y2="719.2" stroke="#111" stroke-width="1.8"/>
<line x1="298.3" y1="712.2" x2="298.3" y2="719.2" stroke="#111" stroke-width="1.8"/>
<line x1="324.3" y1="715.2" x2="324.3" y2="719.2" stroke="#111" stroke-width="1.8"/>
<line x1="350.3" y1="712.2" x2="350.3" y2="719.2" stroke="#111" stroke-width="1.8"/>
<line x1="376.4" y1="715.2" x2="376.4" y2="719.2" stroke="#111" stroke-width="1.8"/>
<line x1="402.4" y1="712.2" x2="402.4" y2="719.2" stroke="#111" stroke-width="1.8"/>
<text x="38" y="737.4" font-family='"Liberation Sans", sans-serif' font-size="12.5" font-weight="bold" text-anchor="middle" fill="#000" >1400</text>
<text x="90" y="737.4" font-family='"Liberation Sans", sans-serif' font-size="12.5" font-weight="bold" text-anchor="middle" fill="#000" >1200</text>
<text x="142.1" y="737.4" font-family='"Liberation Sans", sans-serif' font-size="12.5" font-weight="bold" text-anchor="middle" fill="#000" >1000</text>
<text x="194.2" y="737.4" font-family='"Liberation Sans", sans-serif' font-size="12.5" font-weight="bold" text-anchor="middle" fill="#000" >800</text>
<text x="246.2" y="737.4" font-family='"Liberation Sans", sans-serif' font-size="12.5" font-weight="bold" text-anchor="middle" fill="#000" >600</text>
<text x="298.3" y="737.4" font-family='"Liberation Sans", sans-serif' font-size="12.5" font-weight="bold" text-anchor="middle" fill="#000" >400</text>
<text x="350.3" y="737.4" font-family='"Liberation Sans", sans-serif' font-size="12.5" font-weight="bold" text-anchor="middle" fill="#000" >200</text>
<text x="402.4" y="737.4" font-family='"Liberation Sans", sans-serif' font-size="12.5" font-weight="bold" text-anchor="middle" fill="#000" >0</text>
<text x="237.4" y="758.4" font-family='"Liberation Serif", serif' font-size="15.5" font-weight="bold" text-anchor="middle" fill="#000" >Binding Energy (eV)</text>
<path d="M50.5 635.7 L52.5 637 L54.4 638.6 L56.4 639.7 L58.3 640.6 L60.1 640.4 L62 640.9 L63.8 642 L65.7 642.8 L67.8 642.6 L69.9 643.4 L72 643 L73.8 642.8 L75.6 642.2 L77.4 641.6 L79.2 640.4 L81 639 L82.8 636.2 L84.4 640.9 L86 646 L87.9 651.4 L89.7 651.4 L91.6 650.4 L93.4 650.5 L95.2 649.8 L97 650.6 L98.9 649.2 L100.7 649.5 L102.3 649.7 L104 648.5 L105.6 649.1 L107.3 648.4 L108.9 648.3 L110.5 648.7 L112.2 647.4 L113.8 647.2 L115.5 648.2 L117.1 647.4 L119.1 646.9 L121 645.9 L123 646.7 L125 645.5 L126.7 645.4 L128.4 643.6 L130.1 643.3 L131.8 642.2 L133.5 642 L135.8 640.7 L138 640 L139.8 638.9 L141.6 637.4 L144 640.2 L146.5 634 L148 628.5 L149 640 L149.8 651.4 L151.6 653.2 L153.3 656 L156 656.5 L158 655.6 L159.6 651.4 L161.5 658.9 L163.2 658.9 L164.9 657.7 L166.6 657.6 L168.3 658.2 L170 657.5 L171.7 657 L173.4 656.8 L175.1 656.7 L176.8 656.2 L178.5 655.8 L180.2 655.6 L181.9 654.6 L183.6 655.2 L185.3 655.1 L186.9 654.8 L188.6 654 L190.3 653.2 L192 653 L193.7 652.5 L195.3 652.7 L197 652.3 L198.6 651.3 L200.3 651.1 L201.9 651 L203.6 650.9 L205.2 650.8 L206.9 651.2 L208.5 650.6 L210.1 649.9 L211.7 650.9 L213.4 650.3 L215 650.3 L216.7 650.3 L218.4 649.9 L220.1 650.2 L221.9 650.1 L223.6 650.6 L225.3 649.7 L227 650.2 L228.6 650.5 L230.2 650.2 L231.9 651.1 L233.5 650.4 L235.1 650.9 L236.8 651.3 L238.4 651.9 L240 651.9 L241.6 650.8 L243.3 650.9 L244.9 650.1 L246.6 649.7 L248.2 649.6 L249.8 649.8 L251.5 648.6 L253.1 648.2 L255.2 647 L257 649 L259.4 650.3 L261.5 666.1 L263.2 668 L263.6 600 L264.1 529.4 L264.7 560 L265.2 640 L265.7 670.3 L267.5 670.8 L269.3 669.5 L271.1 670.4 L272.9 669.5 L274.6 669.1 L276.4 669.7 L278.2 669.7 L280 669 L281.6 668.2 L283.3 668.5 L284.9 669.1 L286.6 668.4 L288.2 668.1 L289.8 667.7 L291.5 667.7 L293.1 668.2 L295.1 668.5 L297.2 668.5 L297.8 648.2 L298.8 648.2 L299.5 674 L300.4 675.6 L302 676 L303.6 675.8 L305.2 674.8 L306.8 673.9 L308.4 674 L310 674 L311.8 674.2 L313.6 674 L315.4 673.5 L317.1 672.7 L318.9 672.9 L320.7 672.6 L322.5 672.4 L324 676 L325.7 682.9 L327.5 688 L328.3 600 L328.8 532.6 L329.4 600 L330 690 L330.9 697.6 L332.7 697.8 L334.5 697.4 L336.4 698.4 L338.2 698.4 L340 697.9 L341.8 697.3 L343.5 697.3 L345.2 697.9 L347 696.9 L348.8 697.6 L350.5 696.9 L352.2 696.9 L354 696.5 L356.4 695.9 L358.7 694.7 L361 698.4 L362.2 690 L362.7 669 L363.3 669 L363.8 692 L364.3 697 L365.9 696.6 L367.6 696.7 L369.2 696.7 L370.8 697 L372.5 698.7 L374.1 699.8 L375.8 690 L376.4 668.5 L377 668.5 L377.4 700.7 L379.1 700.5 L380.8 699.3 L382.5 699.3 L384.9 702.6 L386.5 703.1 L388.1 702.3 L389.7 702 L391.3 702.2 L392.9 702.9 L394.5 702.3 L396.1 702.1 L397 699.8 L399 702 L402.1 704.5" fill="none" stroke="#000" stroke-width="1.8" stroke-linejoin="round"/>
<text x="0" y="0" font-family='"Liberation Serif", serif' font-size="15.5" font-weight="bold" text-anchor="start" fill="#000" transform="translate(271.3 523.8) rotate(-90)">O 1s</text>
<text x="0" y="0" font-family='"Liberation Serif", serif' font-size="15.5" font-weight="bold" text-anchor="start" fill="#000" transform="translate(335.6 527.9) rotate(-90)">C 1s</text>
<text x="0" y="0" font-family='"Liberation Serif", serif' font-size="15.5" font-weight="bold" text-anchor="start" fill="#000" transform="translate(305 642.8) rotate(-90)">N 1s</text>
<text x="0" y="0" font-family='"Liberation Serif", serif' font-size="15.5" font-weight="bold" text-anchor="start" fill="#000" transform="translate(380.7 662.4) rotate(-90)">Si 2p</text>
<text x="0" y="0" font-family='"Liberation Serif", serif' font-size="15.5" font-weight="bold" text-anchor="start" fill="#000" transform="translate(166 645.6) rotate(-90)">Cu 2p</text>
<line x1="442" y1="722.6" x2="810" y2="722.6" stroke="#111" stroke-width="2"/>
<line x1="441.8" y1="718.6" x2="441.8" y2="722.6" stroke="#111" stroke-width="1.8"/>
<line x1="466.3" y1="715.6" x2="466.3" y2="722.6" stroke="#111" stroke-width="1.8"/>
<line x1="490.8" y1="718.6" x2="490.8" y2="722.6" stroke="#111" stroke-width="1.8"/>
<line x1="515.3" y1="715.6" x2="515.3" y2="722.6" stroke="#111" stroke-width="1.8"/>
<line x1="539.8" y1="718.6" x2="539.8" y2="722.6" stroke="#111" stroke-width="1.8"/>
<line x1="564.3" y1="715.6" x2="564.3" y2="722.6" stroke="#111" stroke-width="1.8"/>
<line x1="588.8" y1="718.6" x2="588.8" y2="722.6" stroke="#111" stroke-width="1.8"/>
<line x1="613.3" y1="715.6" x2="613.3" y2="722.6" stroke="#111" stroke-width="1.8"/>
<line x1="637.8" y1="718.6" x2="637.8" y2="722.6" stroke="#111" stroke-width="1.8"/>
<line x1="662.3" y1="715.6" x2="662.3" y2="722.6" stroke="#111" stroke-width="1.8"/>
<line x1="686.8" y1="718.6" x2="686.8" y2="722.6" stroke="#111" stroke-width="1.8"/>
<line x1="711.3" y1="715.6" x2="711.3" y2="722.6" stroke="#111" stroke-width="1.8"/>
<line x1="735.8" y1="718.6" x2="735.8" y2="722.6" stroke="#111" stroke-width="1.8"/>
<line x1="760.3" y1="715.6" x2="760.3" y2="722.6" stroke="#111" stroke-width="1.8"/>
<line x1="784.8" y1="718.6" x2="784.8" y2="722.6" stroke="#111" stroke-width="1.8"/>
<line x1="809.3" y1="715.6" x2="809.3" y2="722.6" stroke="#111" stroke-width="1.8"/>
<text x="466.3" y="740.5" font-family='"Liberation Sans", sans-serif' font-size="12.5" font-weight="normal" text-anchor="middle" fill="#000" stroke="#000" stroke-width="0.35">294</text>
<text x="515.3" y="740.5" font-family='"Liberation Sans", sans-serif' font-size="12.5" font-weight="normal" text-anchor="middle" fill="#000" stroke="#000" stroke-width="0.35">292</text>
<text x="564.3" y="740.5" font-family='"Liberation Sans", sans-serif' font-size="12.5" font-weight="normal" text-anchor="middle" fill="#000" stroke="#000" stroke-width="0.35">290</text>
<text x="613.3" y="740.5" font-family='"Liberation Sans", sans-serif' font-size="12.5" font-weight="normal" text-anchor="middle" fill="#000" stroke="#000" stroke-width="0.35">288</text>
<text x="662.3" y="740.5" font-family='"Liberation Sans", sans-serif' font-size="12.5" font-weight="normal" text-anchor="middle" fill="#000" stroke="#000" stroke-width="0.35">286</text>
<text x="711.3" y="740.5" font-family='"Liberation Sans", sans-serif' font-size="12.5" font-weight="normal" text-anchor="middle" fill="#000" stroke="#000" stroke-width="0.35">284</text>
<text x="760.3" y="740.5" font-family='"Liberation Sans", sans-serif' font-size="12.5" font-weight="normal" text-anchor="middle" fill="#000" stroke="#000" stroke-width="0.35">282</text>
<text x="809.3" y="740.5" font-family='"Liberation Sans", sans-serif' font-size="12.5" font-weight="normal" text-anchor="middle" fill="#000" stroke="#000" stroke-width="0.35">280</text>
<text x="625.8" y="766.2" font-family='"Liberation Serif", serif' font-size="15.5" font-weight="bold" text-anchor="middle" fill="#000" >Binding Energy (eV)</text>
<defs><linearGradient id="ccg" gradientUnits="userSpaceOnUse" x1="0" y1="519" x2="0" y2="672"><stop offset="0" stop-color="#97a697"/><stop offset="0.45" stop-color="#83d29e"/><stop offset="1" stop-color="#a4da93"/></linearGradient><linearGradient id="olg" gradientUnits="userSpaceOnUse" x1="0" y1="621" x2="0" y2="670"><stop offset="0" stop-color="#8d9a48"/><stop offset="1" stop-color="#cbb43a"/></linearGradient></defs>
<path d="M553 662.9 L554 663 L555 663 L556 663 L557 663 L558 663.1 L559 663.1 L560 663.1 L561 663.1 L562 663.1 L563 663.1 L564 663.1 L565 663.1 L566 663.1 L567 663.1 L568 663 L569 663 L570 662.9 L571 662.8 L572 662.7 L573 662.6 L574 662.5 L575 662.4 L576 662.2 L577 662 L578 661.9 L579 661.6 L580 661.4 L581 661.2 L582 660.9 L583 660.6 L584 660.3 L585 659.9 L586 659.6 L587 659.2 L588 658.8 L589 658.4 L590 658 L591 657.6 L592 657.2 L593 656.8 L594 656.4 L595 655.9 L596 655.5 L597 655.1 L598 654.7 L599 654.3 L600 654 L601 653.7 L602 653.4 L603 653.1 L604 652.9 L605 652.7 L606 652.5 L607 652.4 L608 652.4 L609 652.3 L610 652.4 L611 652.4 L612 652.5 L613 652.7 L614 652.9 L615 653.1 L616 653.4 L617 653.7 L618 654.1 L619 654.5 L620 654.9 L621 655.4 L622 655.8 L623 656.3 L624 656.8 L625 657.3 L626 657.8 L627 658.3 L628 658.8 L629 659.4 L630 659.9 L631 660.4 L632 660.8 L633 661.3 L634 661.8 L635 662.2 L636 662.6 L637 663 L638 663.4 L639 663.8 L640 664.1 L641 664.5 L642 664.8 L643 665.1 L644 665.3 L645 665.6 L646 665.8 L647 666 L648 666.2 L649 666.4 L650 666.5 L651 666.7 L652 666.8 L653 667 L654 667.1 L655 667.2 L656 667.3 L657 667.4 L658 667.5 L659 667.6 L660 667.7 L661 667.7 L662 667.8 L663 667.9 L664 667.9 L665 668 L666 668 L667 668.1 L668 668.2 L669 668.2 L670 668.3 L671 668.3 L672 668.4 L673 668.4 L674 668.5 L675 668.5 L676 668.6 L677 668.6 L678 668.6 L679 668.7 L680 668.7 L680 668.7 L679 668.7 L678 668.7 L677 668.6 L676 668.6 L675 668.5 L674 668.5 L673 668.4 L672 668.4 L671 668.3 L670 668.3 L669 668.2 L668 668.2 L667 668.2 L666 668.1 L665 668.1 L664 668 L663 668 L662 667.9 L661 667.9 L660 667.8 L659 667.8 L658 667.7 L657 667.7 L656 667.7 L655 667.6 L654 667.6 L653 667.5 L652 667.5 L651 667.4 L650 667.4 L649 667.3 L648 667.3 L647 667.2 L646 667.2 L645 667.1 L644 667.1 L643 667.1 L642 667 L641 667 L640 666.9 L639 666.9 L638 666.8 L637 666.8 L636 666.7 L635 666.7 L634 666.6 L633 666.6 L632 666.6 L631 666.5 L630 666.5 L629 666.4 L628 666.4 L627 666.3 L626 666.3 L625 666.2 L624 666.2 L623 666.1 L622 666.1 L621 666.1 L620 666 L619 666 L618 665.9 L617 665.9 L616 665.8 L615 665.8 L614 665.7 L613 665.7 L612 665.6 L611 665.6 L610 665.6 L609 665.5 L608 665.5 L607 665.4 L606 665.4 L605 665.3 L604 665.3 L603 665.2 L602 665.2 L601 665.1 L600 665.1 L599 665.1 L598 665 L597 665 L596 664.9 L595 664.9 L594 664.8 L593 664.8 L592 664.7 L591 664.7 L590 664.6 L589 664.6 L588 664.6 L587 664.5 L586 664.5 L585 664.4 L584 664.4 L583 664.3 L582 664.3 L581 664.2 L580 664.2 L579 664.1 L578 664.1 L577 664.1 L576 664 L575 664 L574 663.9 L573 663.9 L572 663.8 L571 663.8 L570 663.7 L569 663.7 L568 663.6 L567 663.6 L566 663.6 L565 663.5 L564 663.5 L563 663.4 L562 663.4 L561 663.3 L560 663.3 L559 663.2 L558 663.2 L557 663.1 L556 663.1 L555 663.1 L554 663 L553 663 Z" fill="#d9a0d4" stroke="none" stroke-width="1"/>
<path d="M595 664.8 L596 664.8 L597 664.9 L598 664.9 L599 664.9 L600 664.9 L601 665 L602 665 L603 665 L604 665 L605 665 L606 665 L607 664.9 L608 664.9 L609 664.9 L610 664.8 L611 664.7 L612 664.7 L613 664.6 L614 664.4 L615 664.3 L616 664.1 L617 663.9 L618 663.7 L619 663.5 L620 663.2 L621 662.9 L622 662.6 L623 662.2 L624 661.8 L625 661.4 L626 660.9 L627 660.3 L628 659.7 L629 659.1 L630 658.4 L631 657.7 L632 656.9 L633 656.1 L634 655.2 L635 654.2 L636 653.2 L637 652.2 L638 651.1 L639 650 L640 648.8 L641 647.6 L642 646.3 L643 645 L644 643.7 L645 642.3 L646 641 L647 639.6 L648 638.3 L649 636.9 L650 635.5 L651 634.2 L652 632.9 L653 631.6 L654 630.4 L655 629.2 L656 628.1 L657 627 L658 626 L659 625.1 L660 624.3 L661 623.6 L662 623 L663 622.4 L664 622 L665 621.7 L666 621.5 L667 621.5 L668 621.5 L669 621.7 L670 622 L671 622.3 L672 622.8 L673 623.5 L674 624.2 L675 625 L676 625.9 L677 626.9 L678 628 L679 629.1 L680 630.3 L681 631.6 L682 632.9 L683 634.3 L684 635.7 L685 637.1 L686 638.6 L687 640 L688 641.5 L689 642.9 L690 644.4 L691 645.8 L692 647.2 L693 648.6 L694 650 L695 651.3 L696 652.6 L697 653.8 L698 655 L699 656.1 L700 657.2 L701 658.2 L702 659.2 L703 660.1 L704 661 L705 661.8 L706 662.6 L707 663.3 L708 664 L709 664.6 L710 665.2 L711 665.8 L712 666.3 L713 666.7 L714 667.2 L715 667.6 L716 667.9 L717 668.2 L718 668.5 L719 668.8 L720 669.1 L721 669.3 L722 669.5 L723 669.7 L724 669.9 L725 670 L726 670.2 L727 670.3 L728 670.4 L729 670.6 L730 670.7 L731 670.8 L732 670.9 L733 670.9 L734 671 L735 671.1 L736 671.2 L737 671.2 L738 671.3 L739 671.3 L740 671.4 L741 671.5 L742 671.5 L743 671.6 L744 671.6 L745 671.7 L746 671.7 L747 671.8 L748 671.8 L749 671.9 L750 671.9 L750 671.9 L749 671.9 L748 671.8 L747 671.8 L746 671.7 L745 671.7 L744 671.7 L743 671.6 L742 671.6 L741 671.5 L740 671.5 L739 671.4 L738 671.4 L737 671.3 L736 671.3 L735 671.2 L734 671.2 L733 671.2 L732 671.1 L731 671.1 L730 671 L729 671 L728 670.9 L727 670.9 L726 670.8 L725 670.8 L724 670.7 L723 670.7 L722 670.7 L721 670.6 L720 670.6 L719 670.5 L718 670.5 L717 670.4 L716 670.4 L715 670.3 L714 670.3 L713 670.2 L712 670.2 L711 670.2 L710 670.1 L709 670.1 L708 670 L707 670 L706 669.9 L705 669.9 L704 669.8 L703 669.8 L702 669.7 L701 669.7 L700 669.7 L699 669.6 L698 669.6 L697 669.5 L696 669.5 L695 669.4 L694 669.4 L693 669.3 L692 669.3 L691 669.2 L690 669.2 L689 669.2 L688 669.1 L687 669.1 L686 669 L685 669 L684 668.9 L683 668.9 L682 668.8 L681 668.8 L680 668.7 L679 668.7 L678 668.7 L677 668.6 L676 668.6 L675 668.5 L674 668.5 L673 668.4 L672 668.4 L671 668.3 L670 668.3 L669 668.2 L668 668.2 L667 668.2 L666 668.1 L665 668.1 L664 668 L663 668 L662 667.9 L661 667.9 L660 667.8 L659 667.8 L658 667.7 L657 667.7 L656 667.7 L655 667.6 L654 667.6 L653 667.5 L652 667.5 L651 667.4 L650 667.4 L649 667.3 L648 667.3 L647 667.2 L646 667.2 L645 667.1 L644 667.1 L643 667.1 L642 667 L641 667 L640 666.9 L639 666.9 L638 666.8 L637 666.8 L636 666.7 L635 666.7 L634 666.6 L633 666.6 L632 666.6 L631 666.5 L630 666.5 L629 666.4 L628 666.4 L627 666.3 L626 666.3 L625 666.2 L624 666.2 L623 666.1 L622 666.1 L621 666.1 L620 666 L619 666 L618 665.9 L617 665.9 L616 665.8 L615 665.8 L614 665.7 L613 665.7 L612 665.6 L611 665.6 L610 665.6 L609 665.5 L608 665.5 L607 665.4 L606 665.4 L605 665.3 L604 665.3 L603 665.2 L602 665.2 L601 665.1 L600 665.1 L599 665.1 L598 665 L597 665 L596 664.9 L595 664.9 Z" fill="#f6c49c" stroke="none" stroke-width="1"/>
<path d="M630 666.3 L631 666.4 L632 666.4 L633 666.4 L634 666.3 L635 666.3 L636 666.3 L637 666.2 L638 666.1 L639 666 L640 665.9 L641 665.7 L642 665.4 L643 665.2 L644 664.8 L645 664.4 L646 664 L647 663.4 L648 662.7 L649 662 L650 661.1 L651 660.1 L652 658.9 L653 657.6 L654 656.1 L655 654.5 L656 652.6 L657 650.5 L658 648.2 L659 645.7 L660 642.9 L661 639.9 L662 636.6 L663 633.1 L664 629.2 L665 625.2 L666 620.9 L667 616.3 L668 611.5 L669 606.5 L670 601.3 L671 596 L672 590.5 L673 585 L674 579.4 L675 573.7 L676 568.2 L677 562.6 L678 557.2 L679 552 L680 547.1 L681 542.4 L682 538 L683 534 L684 530.4 L685 527.3 L686 524.6 L687 522.5 L688 520.9 L689 519.9 L690 519.5 L691 519.7 L692 520.4 L693 521.7 L694 523.6 L695 526 L696 529 L697 532.4 L698 536.2 L699 540.5 L700 545.1 L701 550 L702 555.2 L703 560.5 L704 566.1 L705 571.7 L706 577.4 L707 583.1 L708 588.8 L709 594.4 L710 600 L711 605.3 L712 610.5 L713 615.5 L714 620.3 L715 624.9 L716 629.2 L717 633.2 L718 637 L719 640.6 L720 643.8 L721 646.9 L722 649.6 L723 652.2 L724 654.5 L725 656.5 L726 658.4 L727 660.1 L728 661.6 L729 662.9 L730 664.1 L731 665.2 L732 666.1 L733 666.9 L734 667.6 L735 668.2 L736 668.8 L737 669.2 L738 669.6 L739 670 L740 670.3 L741 670.5 L742 670.8 L743 670.9 L744 671.1 L745 671.3 L746 671.4 L747 671.5 L748 671.6 L749 671.7 L750 671.8 L751 671.9 L752 671.9 L753 672 L754 672.1 L755 672.1 L756 672.2 L757 672.2 L758 672.3 L759 672.3 L760 672.4 L760 672.4 L759 672.3 L758 672.3 L757 672.2 L756 672.2 L755 672.2 L754 672.1 L753 672.1 L752 672 L751 672 L750 671.9 L749 671.9 L748 671.8 L747 671.8 L746 671.7 L745 671.7 L744 671.7 L743 671.6 L742 671.6 L741 671.5 L740 671.5 L739 671.4 L738 671.4 L737 671.3 L736 671.3 L735 671.2 L734 671.2 L733 671.2 L732 671.1 L731 671.1 L730 671 L729 671 L728 670.9 L727 670.9 L726 670.8 L725 670.8 L724 670.7 L723 670.7 L722 670.7 L721 670.6 L720 670.6 L719 670.5 L718 670.5 L717 670.4 L716 670.4 L715 670.3 L714 670.3 L713 670.2 L712 670.2 L711 670.2 L710 670.1 L709 670.1 L708 670 L707 670 L706 669.9 L705 669.9 L704 669.8 L703 669.8 L702 669.7 L701 669.7 L700 669.7 L699 669.6 L698 669.6 L697 669.5 L696 669.5 L695 669.4 L694 669.4 L693 669.3 L692 669.3 L691 669.2 L690 669.2 L689 669.2 L688 669.1 L687 669.1 L686 669 L685 669 L684 668.9 L683 668.9 L682 668.8 L681 668.8 L680 668.7 L679 668.7 L678 668.7 L677 668.6 L676 668.6 L675 668.5 L674 668.5 L673 668.4 L672 668.4 L671 668.3 L670 668.3 L669 668.2 L668 668.2 L667 668.2 L666 668.1 L665 668.1 L664 668 L663 668 L662 667.9 L661 667.9 L660 667.8 L659 667.8 L658 667.7 L657 667.7 L656 667.7 L655 667.6 L654 667.6 L653 667.5 L652 667.5 L651 667.4 L650 667.4 L649 667.3 L648 667.3 L647 667.2 L646 667.2 L645 667.1 L644 667.1 L643 667.1 L642 667 L641 667 L640 666.9 L639 666.9 L638 666.8 L637 666.8 L636 666.7 L635 666.7 L634 666.6 L633 666.6 L632 666.6 L631 666.5 L630 666.5 Z" fill="url(#ccg)" stroke="none" stroke-width="1"/>
<path d="M630 666.3 L631 666.4 L632 666.4 L633 666.4 L634 666.3 L635 666.3 L636 666.3 L637 666.2 L638 666.1 L639 666 L640 665.9 L641 665.7 L642 665.4 L643 665.2 L644 664.8 L645 664.4 L646 664 L647 663.4 L648 662.7 L649 662 L650 661.1 L651 660.1 L652 658.9 L653 657.6 L654 656.1 L655 654.5 L656 652.6 L657 650.5 L658 648.2 L659 645.7 L660 642.9 L661 639.9 L662 636.6 L663 633.1 L664 629.2 L665 625.2 L666 621.5 L667 621.5 L668 621.5 L669 621.7 L670 622 L671 622.3 L672 622.8 L673 623.5 L674 624.2 L675 625 L676 625.9 L677 626.9 L678 628 L679 629.1 L680 630.3 L681 631.6 L682 632.9 L683 634.3 L684 635.7 L685 637.1 L686 638.6 L687 640 L688 641.5 L689 642.9 L690 644.4 L691 645.8 L692 647.2 L693 648.6 L694 650 L695 651.3 L696 652.6 L697 653.8 L698 655 L699 656.1 L700 657.2 L701 658.2 L702 659.2 L703 660.1 L704 661 L705 661.8 L706 662.6 L707 663.3 L708 664 L709 664.6 L710 665.2 L711 665.8 L712 666.3 L713 666.7 L714 667.2 L715 667.6 L716 667.9 L717 668.2 L718 668.5 L719 668.8 L720 669.1 L721 669.3 L722 669.5 L723 669.7 L724 669.9 L725 670 L726 670.2 L727 670.3 L728 670.4 L729 670.6 L730 670.7 L731 670.8 L732 670.9 L733 670.9 L734 671 L735 671.1 L736 671.2 L737 671.2 L738 671.3 L739 671.3 L740 671.4 L741 671.5 L742 671.5 L743 671.6 L744 671.6 L745 671.7 L746 671.7 L747 671.8 L748 671.8 L749 671.9 L750 671.9 L750 671.9 L749 671.9 L748 671.8 L747 671.8 L746 671.7 L745 671.7 L744 671.7 L743 671.6 L742 671.6 L741 671.5 L740 671.5 L739 671.4 L738 671.4 L737 671.3 L736 671.3 L735 671.2 L734 671.2 L733 671.2 L732 671.1 L731 671.1 L730 671 L729 671 L728 670.9 L727 670.9 L726 670.8 L725 670.8 L724 670.7 L723 670.7 L722 670.7 L721 670.6 L720 670.6 L719 670.5 L718 670.5 L717 670.4 L716 670.4 L715 670.3 L714 670.3 L713 670.2 L712 670.2 L711 670.2 L710 670.1 L709 670.1 L708 670 L707 670 L706 669.9 L705 669.9 L704 669.8 L703 669.8 L702 669.7 L701 669.7 L700 669.7 L699 669.6 L698 669.6 L697 669.5 L696 669.5 L695 669.4 L694 669.4 L693 669.3 L692 669.3 L691 669.2 L690 669.2 L689 669.2 L688 669.1 L687 669.1 L686 669 L685 669 L684 668.9 L683 668.9 L682 668.8 L681 668.8 L680 668.7 L679 668.7 L678 668.7 L677 668.6 L676 668.6 L675 668.5 L674 668.5 L673 668.4 L672 668.4 L671 668.3 L670 668.3 L669 668.2 L668 668.2 L667 668.2 L666 668.1 L665 668.1 L664 668 L663 668 L662 667.9 L661 667.9 L660 667.8 L659 667.8 L658 667.7 L657 667.7 L656 667.7 L655 667.6 L654 667.6 L653 667.5 L652 667.5 L651 667.4 L650 667.4 L649 667.3 L648 667.3 L647 667.2 L646 667.2 L645 667.1 L644 667.1 L643 667.1 L642 667 L641 667 L640 666.9 L639 666.9 L638 666.8 L637 666.8 L636 666.7 L635 666.7 L634 666.6 L633 666.6 L632 666.6 L631 666.5 L630 666.5 Z" fill="url(#olg)" stroke="none" stroke-width="1"/>
<path d="M595 664.8 L596 664.8 L597 664.9 L598 664.9 L599 664.9 L600 664.9 L601 665 L602 665 L603 665 L604 665 L605 665 L606 665 L607 664.9 L608 664.9 L609 664.9 L610 664.8 L611 664.7 L612 664.7 L613 664.6 L614 664.4 L615 664.3 L616 664.1 L617 663.9 L618 663.7 L619 663.5 L620 663.2 L621 662.9 L622 662.6 L623 662.2 L624 661.8 L625 661.4 L626 660.9 L627 660.3 L628 659.7 L629 659.1 L630 658.4 L631 657.7 L632 656.9 L633 656.1 L634 655.2 L635 654.2 L636 653.2 L637 652.2 L638 651.1 L639 650 L640 648.8 L641 647.6 L642 646.3 L643 645 L644 643.7 L645 642.3 L646 641 L647 639.6 L648 638.3 L649 636.9 L650 635.5 L651 634.2 L652 632.9 L653 631.6 L654 630.4 L655 629.2 L656 628.1 L657 627 L658 626 L659 625.1 L660 624.3 L661 623.6 L662 623 L663 622.4 L664 622 L665 621.7 L666 621.5 L667 621.5 L668 621.5 L669 621.7 L670 622 L671 622.3 L672 622.8 L673 623.5 L674 624.2 L675 625 L676 625.9 L677 626.9 L678 628 L679 629.1 L680 630.3 L681 631.6 L682 632.9 L683 634.3 L684 635.7 L685 637.1 L686 638.6 L687 640 L688 641.5 L689 642.9 L690 644.4 L691 645.8 L692 647.2 L693 648.6 L694 650 L695 651.3 L696 652.6 L697 653.8 L698 655 L699 656.1 L700 657.2 L701 658.2 L702 659.2 L703 660.1 L704 661 L705 661.8 L706 662.6 L707 663.3 L708 664 L709 664.6 L710 665.2 L711 665.8 L712 666.3 L713 666.7 L714 667.2 L715 667.6 L716 667.9 L717 668.2 L718 668.5 L719 668.8 L720 669.1 L721 669.3 L722 669.5 L723 669.7 L724 669.9 L725 670 L726 670.2 L727 670.3 L728 670.4 L729 670.6 L730 670.7 L731 670.8 L732 670.9 L733 670.9 L734 671 L735 671.1 L736 671.2 L737 671.2 L738 671.3 L739 671.3 L740 671.4 L741 671.5 L742 671.5 L743 671.6 L744 671.6 L745 671.7 L746 671.7 L747 671.8 L748 671.8 L749 671.9 L750 671.9" fill="none" stroke="#f0a23c" stroke-width="1.1"/>
<path d="M630 666.3 L631 666.4 L632 666.4 L633 666.4 L634 666.3 L635 666.3 L636 666.3 L637 666.2 L638 666.1 L639 666 L640 665.9 L641 665.7 L642 665.4 L643 665.2 L644 664.8 L645 664.4 L646 664 L647 663.4 L648 662.7 L649 662 L650 661.1 L651 660.1 L652 658.9 L653 657.6 L654 656.1 L655 654.5 L656 652.6 L657 650.5 L658 648.2 L659 645.7 L660 642.9 L661 639.9 L662 636.6 L663 633.1 L664 629.2 L665 625.2 L666 620.9 L667 616.3 L668 611.5 L669 606.5 L670 601.3 L671 596 L672 590.5 L673 585 L674 579.4 L675 573.7 L676 568.2 L677 562.6 L678 557.2 L679 552 L680 547.1 L681 542.4 L682 538 L683 534 L684 530.4 L685 527.3 L686 524.6 L687 522.5 L688 520.9 L689 519.9 L690 519.5 L691 519.7 L692 520.4 L693 521.7 L694 523.6 L695 526 L696 529 L697 532.4 L698 536.2 L699 540.5 L700 545.1 L701 550 L702 555.2 L703 560.5 L704 566.1 L705 571.7 L706 577.4 L707 583.1 L708 588.8 L709 594.4 L710 600 L711 605.3 L712 610.5 L713 615.5 L714 620.3 L715 624.9 L716 629.2 L717 633.2 L718 637 L719 640.6 L720 643.8 L721 646.9 L722 649.6 L723 652.2 L724 654.5 L725 656.5 L726 658.4 L727 660.1 L728 661.6 L729 662.9 L730 664.1 L731 665.2 L732 666.1 L733 666.9 L734 667.6 L735 668.2 L736 668.8 L737 669.2 L738 669.6 L739 670 L740 670.3 L741 670.5 L742 670.8 L743 670.9 L744 671.1 L745 671.3 L746 671.4 L747 671.5 L748 671.6 L749 671.7 L750 671.8 L751 671.9 L752 671.9 L753 672 L754 672.1 L755 672.1 L756 672.2 L757 672.2 L758 672.3 L759 672.3 L760 672.4" fill="none" stroke="#4cc04c" stroke-width="1.1"/>
<path d="M553.8 663.6 C558 663.3 571.3 662.4 579 662 C586.7 661.6 594.5 661.4 600 661 C605.5 660.6 607.8 660.2 612 659.5 C616.2 658.8 620.3 657.2 625 657 C629.7 656.8 635.8 657.3 640 658 C644.2 658.7 646.7 659.5 650 661 C653.3 662.5 655 665.9 660 667.3 C665 668.7 673.3 669 680 669.5 C686.7 670 686.7 669.9 700 670.5 C713.3 671.1 741.8 672.1 760 672.9 C778.2 673.6 800.8 674.6 809 675 L809 676.8 C800.8 676.5 778.2 675.8 760 675.2 C741.8 674.6 716.7 673.9 700 673.2 C683.3 672.6 668.3 672.1 660 671.3 C651.7 670.5 660 669.5 650 668.6 C640 667.7 616 666.6 600 666 C584 665.4 561.5 665.2 553.8 665 Z" fill="#d9449b" opacity="0.92"/>
<g fill="#8894d2" opacity="0.75"><circle cx="443.5" cy="665" r="2.3"/><circle cx="447.2" cy="665.1" r="2.3"/><circle cx="451" cy="665.1" r="2.3"/><circle cx="454.8" cy="665.2" r="2.3"/><circle cx="458.5" cy="665.3" r="2.3"/><circle cx="462.2" cy="665.4" r="2.3"/><circle cx="466" cy="665.4" r="2.3"/><circle cx="469.8" cy="665.5" r="2.3"/><circle cx="473.5" cy="665.6" r="2.3"/><circle cx="477.2" cy="665.7" r="2.3"/><circle cx="481" cy="665.8" r="2.3"/><circle cx="484.8" cy="665.9" r="2.3"/><circle cx="488.5" cy="666" r="2.3"/><circle cx="492.2" cy="666.1" r="2.3"/><circle cx="496" cy="666.2" r="2.3"/><circle cx="499.8" cy="666.2" r="2.3"/><circle cx="503.5" cy="666.2" r="2.3"/><circle cx="507.2" cy="666.1" r="2.3"/><circle cx="511" cy="666" r="2.3"/><circle cx="514.8" cy="665.9" r="2.3"/><circle cx="518.5" cy="665.7" r="2.3"/><circle cx="522.2" cy="665.5" r="2.3"/><circle cx="526" cy="665.2" r="2.3"/><circle cx="529.8" cy="665" r="2.3"/><circle cx="533.5" cy="664.8" r="2.3"/><circle cx="537.2" cy="664.7" r="2.3"/><circle cx="541" cy="664.5" r="2.3"/><circle cx="544.8" cy="664.3" r="2.3"/><circle cx="548.5" cy="663.9" r="2.3"/><circle cx="552.2" cy="663.4" r="2.3"/><circle cx="556" cy="662.8" r="2.3"/><circle cx="559.8" cy="661.9" r="2.3"/><circle cx="563.5" cy="661" r="2.3"/><circle cx="567.2" cy="659.9" r="2.3"/><circle cx="571" cy="658.9" r="2.3"/><circle cx="574.8" cy="657.8" r="2.3"/><circle cx="578.5" cy="656.7" r="2.3"/><circle cx="582.2" cy="655.7" r="2.3"/><circle cx="586" cy="654.6" r="2.3"/><circle cx="589.8" cy="653.5" r="2.3"/><circle cx="593.5" cy="652.4" r="2.3"/><circle cx="597.2" cy="651.5" r="2.3"/><circle cx="601" cy="650.8" r="2.3"/><circle cx="604.8" cy="650.4" r="2.3"/><circle cx="608.5" cy="650.2" r="2.3"/><circle cx="612.2" cy="650.1" r="2.3"/><circle cx="616" cy="649.9" r="2.3"/><circle cx="619.8" cy="649.5" r="2.3"/><circle cx="623.5" cy="648.8" r="2.3"/><circle cx="627.2" cy="647.7" r="2.3"/><circle cx="631" cy="646.2" r="2.3"/><circle cx="634.8" cy="644.2" r="2.3"/><circle cx="638.5" cy="641.8" r="2.3"/><circle cx="642.2" cy="639" r="2.3"/><circle cx="646" cy="635.2" r="2.3"/><circle cx="649.8" cy="629.4" r="2.3"/><circle cx="653.5" cy="619.9" r="2.3"/><circle cx="657.2" cy="608.5" r="2.3"/><circle cx="661" cy="595.9" r="2.3"/><circle cx="664.8" cy="581.2" r="2.3"/><circle cx="668.5" cy="564.3" r="2.3"/><circle cx="672.2" cy="545.8" r="2.3"/><circle cx="676" cy="525.4" r="2.3"/><circle cx="679.8" cy="507.9" r="2.3"/><circle cx="683.5" cy="497.1" r="2.3"/><circle cx="687.2" cy="491.4" r="2.3"/><circle cx="691" cy="491.8" r="2.3"/><circle cx="694.8" cy="500.8" r="2.3"/><circle cx="698.5" cy="516.4" r="2.3"/><circle cx="702.2" cy="532" r="2.3"/><circle cx="706" cy="553.4" r="2.3"/><circle cx="709.8" cy="582.7" r="2.3"/><circle cx="713.5" cy="610.1" r="2.3"/><circle cx="717.2" cy="631.3" r="2.3"/><circle cx="721" cy="647.7" r="2.3"/><circle cx="724.8" cy="657.7" r="2.3"/><circle cx="728.5" cy="664.1" r="2.3"/><circle cx="732.2" cy="667.2" r="2.3"/><circle cx="736" cy="668.9" r="2.3"/><circle cx="739.8" cy="669.9" r="2.3"/><circle cx="743.5" cy="670.8" r="2.3"/><circle cx="747.2" cy="671.7" r="2.3"/><circle cx="751" cy="672.4" r="2.3"/><circle cx="754.8" cy="673" r="2.3"/><circle cx="758.5" cy="673.5" r="2.3"/><circle cx="762.2" cy="673.9" r="2.3"/><circle cx="766" cy="674.1" r="2.3"/><circle cx="769.8" cy="674.2" r="2.3"/><circle cx="773.5" cy="674.3" r="2.3"/><circle cx="777.2" cy="674.4" r="2.3"/><circle cx="781" cy="674.4" r="2.3"/><circle cx="784.8" cy="674.5" r="2.3"/><circle cx="788.5" cy="674.6" r="2.3"/><circle cx="792.2" cy="674.7" r="2.3"/><circle cx="796" cy="674.8" r="2.3"/><circle cx="799.8" cy="674.8" r="2.3"/><circle cx="803.5" cy="674.9" r="2.3"/><circle cx="807.2" cy="675" r="2.3"/></g>
<path d="M443 665 C447.5 665.1 459.9 665.3 470 665.5 C480.1 665.7 493.6 666.3 503.6 666.2 C513.6 666.1 521.6 665.5 530 665 C538.4 664.5 545.6 664.6 553.8 663.2 C562 661.8 571.3 658.6 579 656.6 C586.7 654.6 593 652.2 600 651 C607 649.8 615.2 650.5 621 649.3 C626.8 648.1 630.5 646.8 635 644 C639.5 641.2 644.3 638.1 647.8 632.8 C651.3 627.5 653.5 619.8 656.1 612 C658.7 604.2 661.1 595.9 663.6 585.9 C666.1 575.9 668.5 564.4 671 552.2 C673.5 540.1 676.3 522.4 678.5 513 C680.7 503.6 682.2 499.7 684 496 C685.8 492.3 687.7 490.4 689.3 490.6 C690.9 490.8 692.2 493.6 693.5 497 C694.8 500.4 695.3 503.1 697.2 511.1 C699.1 519.1 702.2 529.8 704.7 544.8 C707.2 559.8 710.1 586.6 712.1 600.8 C714.1 615 715.4 621.9 717 630 C718.6 638.1 720 644.4 721.5 649.4 C723 654.4 724.5 657.2 726 660 C727.5 662.8 728.5 664.6 730.8 666.3 C733.1 668 735.1 668.8 740 670 C744.9 671.2 752.5 673 760 673.7 C767.5 674.5 777 674.3 785 674.5 C793 674.7 804.2 674.9 808 675" fill="none" stroke="#0c1030" stroke-width="1.3"/>
<text x="693.7" y="479" font-family='"Liberation Serif", serif' font-size="14.5" font-weight="bold" text-anchor="middle" fill="#000" >C1s</text>
<text x="646.3" y="518.2" font-family='"Liberation Serif", serif' font-size="15.5" font-weight="bold" text-anchor="middle" fill="#000" >C-C</text>
<text x="621.5" y="597.1" font-family='"Liberation Serif", serif' font-size="15.5" font-weight="bold" text-anchor="middle" fill="#000" >C-N</text>
<text x="561.2" y="625.8" font-family='"Liberation Serif", serif' font-size="15.5" font-weight="bold" text-anchor="middle" fill="#000" >C=O</text>
<line x1="656" y1="521.4" x2="680.4" y2="544.8" stroke="#2eb82e" stroke-width="1.3" />
<line x1="633.6" y1="599" x2="657" y2="623.3" stroke="#f0902a" stroke-width="1.3" />
<line x1="573" y1="627" x2="596.8" y2="651.5" stroke="#e8288c" stroke-width="1.3" />
<line x1="33.5" y1="1081" x2="413.8" y2="1081" stroke="#111" stroke-width="2"/>
<line x1="43.3" y1="1077" x2="43.3" y2="1081" stroke="#111" stroke-width="1.8"/>
<line x1="90.7" y1="1074" x2="90.7" y2="1081" stroke="#111" stroke-width="1.8"/>
<line x1="138.1" y1="1077" x2="138.1" y2="1081" stroke="#111" stroke-width="1.8"/>
<line x1="185.4" y1="1074" x2="185.4" y2="1081" stroke="#111" stroke-width="1.8"/>
<line x1="232.8" y1="1077" x2="232.8" y2="1081" stroke="#111" stroke-width="1.8"/>
<line x1="280.1" y1="1074" x2="280.1" y2="1081" stroke="#111" stroke-width="1.8"/>
<line x1="327.5" y1="1077" x2="327.5" y2="1081" stroke="#111" stroke-width="1.8"/>
<line x1="374.8" y1="1074" x2="374.8" y2="1081" stroke="#111" stroke-width="1.8"/>
<text x="90.7" y="1098.5" font-family='"Liberation Sans", sans-serif' font-size="13" font-weight="bold" text-anchor="middle" fill="#000" >410</text>
<text x="185.4" y="1098.5" font-family='"Liberation Sans", sans-serif' font-size="13" font-weight="bold" text-anchor="middle" fill="#000" >405</text>
<text x="280.1" y="1098.5" font-family='"Liberation Sans", sans-serif' font-size="13" font-weight="bold" text-anchor="middle" fill="#000" >400</text>
<text x="374.8" y="1098.5" font-family='"Liberation Sans", sans-serif' font-size="13" font-weight="bold" text-anchor="middle" fill="#000" >395</text>
<text x="241" y="1124.3" font-family='"Liberation Serif", serif' font-size="16" font-weight="bold" text-anchor="middle" fill="#000" >Binding Energy (eV)</text>
<path d="M72 989.9 L73.3 992.1 L74.6 990.2 L75.9 988.1 L77.2 987.8 L78.5 991.1 L79.8 991.5 L81.1 991.2 L82.4 995.6 L83.7 987 L85 989.3 L86.3 988.5 L87.6 991.2 L88.9 987.9 L90.2 988.5 L91.5 989.7 L92.8 990.6 L94.1 988.9 L95.4 991.2 L96.7 990.5 L98 992.3 L99.3 988.7 L100.6 987.7 L101.9 991.6 L103.2 991 L104.5 991.7 L105.8 992.4 L107.1 991.4 L108.4 990.7 L109.7 992.4 L111 990.2 L112.3 987.8 L113.6 991.4 L114.9 992.5 L116.2 990 L117.5 987.9 L118.8 986.2 L120.1 990.9 L121.4 990.2 L122.7 988.4 L124 991.3 L125.3 992.9 L126.6 989.7 L127.9 990.2 L129.2 993.7 L130.5 989 L131.8 989.3 L133.1 991.4 L134.4 987.9 L135.7 990 L137 993.5 L138.3 990.8 L139.6 994.1 L140.9 992.2 L142.2 992.2 L143.5 990.6 L144.8 985.9 L146.1 988.2 L147.4 985.4 L148.7 987.7 L150 987.2 L151.3 989.3 L152.6 989.1 L153.9 987.7 L155.2 993 L156.5 987.5 L157.8 989.1 L159.1 992 L160.4 987.2 L161.7 990.5 L163 987.3 L164.3 993.1 L165.6 991.5 L166.9 989.5 L168.2 992.1 L169.5 992.2 L170.8 988.9 L172.1 993.5 L173.4 992.5 L174.7 992.2 L176 990.9 L177.3 986.7 L178.6 989.5 L179.9 993.7 L181.2 993.6 L182.5 993.7 L183.8 989.3 L185.1 989.2 L186.4 991.7 L187.7 993 L189 991.8 L190.3 988.4 L191.6 993.3 L192.9 992.3 L194.2 988.8 L195.5 989.6 L196.8 993.4 L198.1 989.9 L199.4 991.8 L200.7 986.7 L202 991.4 L203.3 986.8 L204.6 991.8 L205.9 988 L207.2 989.5 L208.5 989.7 L209.8 991.4 L211.1 990.9 L212.4 986.9 L213.7 987.3 L215 988.9 L216.3 990.2 L217.6 987.2 L218.9 988.4 L220.2 987.2 L221.5 987.4 L222.8 986.8 L224.1 986.5 L225.4 984.1 L226.7 986.9 L228 983.9 L229.3 984.5 L230.6 980.9 L231.9 980.8 L233.2 982.8 L234.5 980.3 L235.8 980.9 L237.1 977.5 L238.4 975.1 L239.7 972.7 L241 970.6 L242.3 969.4 L243.6 968 L244.9 962.7 L246.2 958.8 L247.5 953.5 L248.8 948.9 L250.1 948.9 L251.4 940.6 L252.7 941.1 L254 935.5 L255.3 930 L256.6 921.5 L257.9 917.6 L259.2 909 L260.5 902 L261.8 895.3 L263.1 886.8 L264.4 881.4 L265.7 876.6 L267 866.4 L268.3 863.8 L269.6 852.9 L270.9 845.9 L272.2 840.4 L273.5 838.6 L274.8 831.3 L276.1 825.2 L277.4 818.4 L278.7 817.4 L280 812 L281.3 805.3 L282.6 802.3 L283.9 802.5 L285.2 801.6 L286.5 799.2 L287.8 796.7 L289.1 798.2 L290.4 801.2 L291.7 806 L293 807.5 L294.3 808.8 L295.6 812.7 L296.9 821 L298.2 826.2 L299.5 830.2 L300.8 838.8 L302.1 848.3 L303.4 853.8 L304.7 864.3 L306 871.2 L307.3 878 L308.6 882.1 L309.9 890.7 L311.2 899.7 L312.5 906.5 L313.8 918.8 L315.1 922.7 L316.4 929.9 L317.7 935.9 L319 943 L320.3 953.4 L321.6 954.8 L322.9 961.8 L324.2 966.7 L325.5 975.7 L326.8 979.6 L328.1 983.2 L329.4 987.7 L330.7 989.5 L332 994.3 L333.3 997.8 L334.6 999.7 L335.9 1001.6 L337.2 998.4 L338.5 997.9 L339.8 1004.3 L341.1 1005 L342.4 1005.1 L343.7 1002.5 L345 1005.5 L346.3 1008 L347.6 1007.2 L348.9 1008.3 L350.2 1003.8 L351.5 1009.2 L352.8 1008.7 L354.1 1009.3 L355.4 1010.5 L356.7 1010.4 L358 1010.7 L359.3 1007.9 L360.6 1007.6 L361.9 1011.9 L363.2 1011.9 L364.5 1010.5 L365.8 1010.4 L367.1 1012.1 L368.4 1009.2 L369.7 1009 L371 1009.3 L372.3 1006.2 L373.6 1011.5 L374.9 1011.6 L376.2 1010.6 L377.5 1012.7 L378.8 1008.7 L380.1 1012.9 L381.4 1012.4 L382.7 1010.2 L384 1008.8 L385.3 1008.8 L386.6 1008.4 L387.9 1015.1 L389.2 1010.6 L390.5 1011.7 L391.8 1012.9 L393.1 1007.6 L394.4 1010.2 L395.7 1008.3 L397 1009.4 L398.3 1007.5 L399.6 1015.1 L400.9 1011.8 L402.2 1009.2 L403.5 1009.9 L404.8 1011 L406.1 1010.1 L407.4 1009.8 L408.7 1009.2 L410 1009 L411.3 1010.6 L412.6 1009.7" fill="none" stroke="#000" stroke-width="2" stroke-linejoin="round"/>
<path d="M200.7 989 L201.7 989 L202.7 989 L203.7 989 L204.7 989.1 L205.7 989.1 L206.7 989.1 L207.7 989.1 L208.7 989.1 L209.7 989.1 L210.7 989.1 L211.7 989.1 L212.7 989.1 L213.7 989.1 L214.7 989.1 L215.7 989.1 L216.7 989.1 L217.7 989.1 L218.7 989.1 L219.7 989.2 L220.7 989.2 L221.7 989.2 L222.7 989.2 L223.7 989.2 L224.7 989.2 L225.7 989.2 L226.7 989.3 L227.7 989.3 L228.7 989.3 L229.7 989.3 L230.7 989.4 L231.7 989.4 L232.7 989.4 L233.7 989.5 L234.7 989.5 L235.7 989.5 L236.7 989.6 L237.7 989.6 L238.7 989.7 L239.7 989.7 L240.7 989.8 L241.7 989.8 L242.7 989.9 L243.7 990 L244.7 990 L245.7 990.1 L246.7 990.2 L247.7 990.3 L248.7 990.4 L249.7 990.5 L250.7 990.6 L251.7 990.7 L252.7 990.8 L253.7 991 L254.7 991.1 L255.7 991.3 L256.7 991.4 L257.7 991.6 L258.7 991.8 L259.7 992 L260.7 992.2 L261.7 992.4 L262.7 992.6 L263.7 992.8 L264.7 993.1 L265.7 993.3 L266.7 993.6 L267.7 993.9 L268.7 994.2 L269.7 994.5 L270.7 994.8 L271.7 995.1 L272.7 995.5 L273.7 995.8 L274.7 996.2 L275.7 996.5 L276.7 996.9 L277.7 997.3 L278.7 997.7 L279.7 998 L280.7 998.4 L281.7 998.8 L282.7 999.2 L283.7 999.6 L284.7 1000 L285.7 1000.4 L286.7 1000.8 L287.7 1001.2 L288.7 1001.6 L289.7 1002 L290.7 1002.3 L291.7 1002.7 L292.7 1003 L293.7 1003.4 L294.7 1003.7 L295.7 1004 L296.7 1004.3 L297.7 1004.6 L298.7 1004.9 L299.7 1005.2 L300.7 1005.5 L301.7 1005.7 L302.7 1006 L303.7 1006.2 L304.7 1006.4 L305.7 1006.6 L306.7 1006.8 L307.7 1007 L308.7 1007.2 L309.7 1007.3 L310.7 1007.5 L311.7 1007.6 L312.7 1007.8 L313.7 1007.9 L314.7 1008 L315.7 1008.2 L316.7 1008.3 L317.7 1008.4 L318.7 1008.5 L319.7 1008.5 L320.7 1008.6 L321.7 1008.7 L322.7 1008.8 L323.7 1008.8 L324.7 1008.9 L325.7 1009 L326.7 1009 L327.7 1009.1 L328.7 1009.1 L329.7 1009.1 L330.7 1009.2 L331.7 1009.2 L332.7 1009.3 L333.7 1009.3 L334.7 1009.3 L335.7 1009.3 L336.7 1009.4 L337.7 1009.4 L338.7 1009.4 L339.7 1009.4 L340.7 1009.5 L341.7 1009.5 L342.7 1009.5 L343.7 1009.5 L344.7 1009.5 L345.7 1009.5 L346.7 1009.5 L347.7 1009.6 L348.7 1009.6 L349.7 1009.6 L350.7 1009.6 L351.7 1009.6 L352.7 1009.6 L353.7 1009.6 L354.7 1009.6 L355.7 1009.6 L356.7 1009.6 L357.7 1009.6" fill="none" stroke="#2e63c4" stroke-width="1.3"/>
<path d="M200.7 989 L201.5 989 L202.3 989 L203.1 989 L203.9 989 L204.7 989 L205.5 989 L206.3 989 L207.1 989 L207.9 989 L208.7 988.9 L209.5 988.9 L210.3 988.9 L211.1 988.9 L211.9 988.9 L212.7 988.8 L213.5 988.8 L214.3 988.8 L215.1 988.7 L215.9 988.7 L216.7 988.6 L217.5 988.5 L218.3 988.5 L219.1 988.4 L219.9 988.3 L220.7 988.2 L221.5 988 L222.3 987.9 L223.1 987.7 L223.9 987.6 L224.7 987.4 L225.5 987.1 L226.3 986.9 L227.1 986.6 L227.9 986.3 L228.7 986 L229.5 985.6 L230.3 985.2 L231.1 984.7 L231.9 984.2 L232.7 983.7 L233.5 983.1 L234.3 982.4 L235.1 981.7 L235.9 981 L236.7 980.1 L237.5 979.2 L238.3 978.2 L239.1 977.1 L239.9 976 L240.7 974.7 L241.5 973.4 L242.3 972 L243.1 970.4 L243.9 968.8 L244.7 967.1 L245.5 965.2 L246.3 963.2 L247.1 961.1 L247.9 958.9 L248.7 956.6 L249.5 954.1 L250.3 951.5 L251.1 948.8 L251.9 945.9 L252.7 942.9 L253.5 939.8 L254.3 936.6 L255.1 933.2 L255.9 929.7 L256.7 926.1 L257.5 922.4 L258.3 918.5 L259.1 914.6 L259.9 910.5 L260.7 906.4 L261.5 902.2 L262.3 897.9 L263.1 893.5 L263.9 889.1 L264.7 884.7 L265.5 880.2 L266.3 875.7 L267.1 871.2 L267.9 866.8 L268.7 862.3 L269.5 857.9 L270.3 853.6 L271.1 849.3 L271.9 845.1 L272.7 841 L273.5 837.1 L274.3 833.3 L275.1 829.6 L275.9 826.1 L276.7 822.8 L277.5 819.7 L278.3 816.8 L279.1 814.1 L279.9 811.7 L280.7 809.5 L281.5 807.6 L282.3 805.9 L283.1 804.5 L283.9 803.4 L284.7 802.6 L285.5 802.1 L286.3 801.9 L287.1 802 L287.9 802.4 L288.7 803.1 L289.5 804.1 L290.3 805.5 L291.1 807.2 L291.9 809.2 L292.7 811.5 L293.5 814.1 L294.3 817 L295.1 820.1 L295.9 823.5 L296.7 827.2 L297.5 831 L298.3 835.1 L299.1 839.3 L299.9 843.8 L300.7 848.3 L301.5 853 L302.3 857.8 L303.1 862.7 L303.9 867.7 L304.7 872.8 L305.5 877.9 L306.3 883 L307.1 888.1 L307.9 893.1 L308.7 898.2 L309.5 903.2 L310.3 908.2 L311.1 913.1 L311.9 917.9 L312.7 922.6 L313.5 927.2 L314.3 931.7 L315.1 936.1 L315.9 940.3 L316.7 944.4 L317.5 948.4 L318.3 952.2 L319.1 955.8 L319.9 959.4 L320.7 962.7 L321.5 965.9 L322.3 969 L323.1 971.9 L323.9 974.7 L324.7 977.3 L325.5 979.7 L326.3 982.1 L327.1 984.2 L327.9 986.3 L328.7 988.2 L329.5 990 L330.3 991.7 L331.1 993.2 L331.9 994.7 L332.7 996 L333.5 997.3 L334.3 998.4 L335.1 999.5 L335.9 1000.4 L336.7 1001.3 L337.5 1002.2 L338.3 1002.9 L339.1 1003.6 L339.9 1004.2 L340.7 1004.8 L341.5 1005.3 L342.3 1005.8 L343.1 1006.2 L343.9 1006.6 L344.7 1006.9 L345.5 1007.2 L346.3 1007.5 L347.1 1007.7 L347.9 1008 L348.7 1008.2 L349.5 1008.3 L350.3 1008.5 L351.1 1008.6 L351.9 1008.8 L352.7 1008.9 L353.5 1009 L354.3 1009.1 L355.1 1009.1 L355.9 1009.2 L356.7 1009.3 L357.5 1009.3 L358.3 1009.4" fill="none" stroke="#ee2424" stroke-width="1.7"/>
<text x="293" y="794" font-family='"Liberation Serif", serif' font-size="16" font-weight="bold" text-anchor="middle" fill="#000" >N1s</text>
<line x1="452.3" y1="1083.3" x2="823.8" y2="1083.3" stroke="#111" stroke-width="2"/>
<line x1="452.3" y1="1076.3" x2="452.3" y2="1083.3" stroke="#111" stroke-width="1.8"/>
<line x1="493.5" y1="1079.3" x2="493.5" y2="1083.3" stroke="#111" stroke-width="1.8"/>
<line x1="534.7" y1="1076.3" x2="534.7" y2="1083.3" stroke="#111" stroke-width="1.8"/>
<line x1="575.9" y1="1079.3" x2="575.9" y2="1083.3" stroke="#111" stroke-width="1.8"/>
<line x1="617" y1="1076.3" x2="617" y2="1083.3" stroke="#111" stroke-width="1.8"/>
<line x1="658.2" y1="1079.3" x2="658.2" y2="1083.3" stroke="#111" stroke-width="1.8"/>
<line x1="699.4" y1="1076.3" x2="699.4" y2="1083.3" stroke="#111" stroke-width="1.8"/>
<line x1="740.6" y1="1079.3" x2="740.6" y2="1083.3" stroke="#111" stroke-width="1.8"/>
<line x1="781.8" y1="1076.3" x2="781.8" y2="1083.3" stroke="#111" stroke-width="1.8"/>
<line x1="823" y1="1079.3" x2="823" y2="1083.3" stroke="#111" stroke-width="1.8"/>
<text x="452.3" y="1103.2" font-family='"Liberation Sans", sans-serif' font-size="13" font-weight="bold" text-anchor="middle" fill="#000" >970</text>
<text x="534.7" y="1103.2" font-family='"Liberation Sans", sans-serif' font-size="13" font-weight="bold" text-anchor="middle" fill="#000" >960</text>
<text x="617" y="1103.2" font-family='"Liberation Sans", sans-serif' font-size="13" font-weight="bold" text-anchor="middle" fill="#000" >950</text>
<text x="699.4" y="1103.2" font-family='"Liberation Sans", sans-serif' font-size="13" font-weight="bold" text-anchor="middle" fill="#000" >940</text>
<text x="781.8" y="1103.2" font-family='"Liberation Sans", sans-serif' font-size="13" font-weight="bold" text-anchor="middle" fill="#000" >930</text>
<text x="638.2" y="1130.7" font-family='"Liberation Sans", sans-serif' font-size="17" font-weight="bold" text-anchor="middle" fill="#000" >Binding Energy (eV)</text>
<path d="M550 917.3 L550.5 917.3 L551 917.3 L551.5 917.3 L552 917.3 L552.5 917.3 L553 917.2 L553.5 917.2 L554 917.1 L554.5 917 L555 917.1 L555.5 917.2 L556 917.2 L556.5 917.2 L557 917.1 L557.5 916.9 L558 916.6 L558.5 916.2 L559 915.8 L559.5 915.1 L560 914.4 L560.5 913.5 L561 912.4 L561.5 911.1 L562 909.7 L562.5 908 L563 906.1 L563.5 904.1 L564 901.8 L564.5 899.3 L565 896.6 L565.5 893.8 L566 891 L566.5 888.1 L567 885.1 L567.5 882 L568 878.8 L568.5 875.6 L569 872.4 L569.5 869.3 L570 866.4 L570.5 863.6 L571 861 L571.5 858.7 L572 856.7 L572.5 855 L573 853.8 L573.5 852.9 L574 852.5 L574.5 852.6 L575 853.2 L575.5 854.1 L576 855.3 L576.5 856.8 L577 858.6 L577.5 860.7 L578 863.1 L578.5 865.7 L579 868.6 L579.5 871.7 L580 874.9 L580.5 878.3 L581 881.8 L581.5 885.4 L582 889.1 L582.5 892.8 L583 896.6 L583.5 900.3 L584 904 L584.5 907.6 L585 911.2 L585.5 914.7 L586 918 L586.5 921.3 L587 924.4 L587.5 927.4 L588 930.3 L588.5 933 L589 935.6 L589.5 938 L590 940.3 L590.5 942.4 L591 944.4 L591.5 946.3 L592 948.1 L592.5 949.7 L593 951.3 L593.5 952.7 L594 954 L594.5 955.3 L595 956.5 L595.5 957.6 L596 958.6 L596.5 959.6 L597 960.5 L597.5 961.4 L598 962.2 L598.5 963 L599 963.7 L599.5 964.2 L600 964.6 L600 965.2 L599.5 964.9 L599 964.5 L598.5 964.1 L598 963.5 L597.5 962.9 L597 962.3 L596.5 961.7 L596 961.1 L595.5 960.5 L595 959.9 L594.5 959.3 L594 958.7 L593.5 958.1 L593 957.5 L592.5 956.9 L592 956.3 L591.5 955.7 L591 955.1 L590.5 954.5 L590 953.9 L589.5 953.3 L589 952.7 L588.5 952.1 L588 951.5 L587.5 950.9 L587 950.3 L586.5 949.7 L586 949.1 L585.5 948.5 L585 947.9 L584.5 947.3 L584 946.7 L583.5 946.1 L583 945.4 L582.5 944.8 L582 944.2 L581.5 943.6 L581 943 L580.5 942.4 L580 941.8 L579.5 941.2 L579 940.6 L578.5 940 L578 939.4 L577.5 938.8 L577 938.2 L576.5 937.6 L576 937 L575.5 936.4 L575 935.8 L574.5 935.2 L574 934.6 L573.5 934 L573 933.4 L572.5 932.8 L572 932.2 L571.5 931.6 L571 931 L570.5 930.4 L570 929.8 L569.5 929.2 L569 928.6 L568.5 928 L568 927.4 L567.5 926.8 L567 926.2 L566.5 925.6 L566 925 L565.5 924.4 L565 924.1 L564.5 923.8 L564 923.5 L563.5 923.2 L563 922.9 L562.5 922.6 L562 922.3 L561.5 922 L561 921.7 L560.5 921.4 L560 921.1 L559.5 920.8 L559 920.5 L558.5 920.2 L558 919.9 L557.5 919.6 L557 919.3 L556.5 919 L556 918.7 L555.5 918.4 L555 918.1 L554.5 917.8 L554 917.7 L553.5 917.6 L553 917.6 L552.5 917.6 L552 917.5 L551.5 917.5 L551 917.5 L550.5 917.4 L550 917.4 Z" fill="#f4a3a0"/>
<path d="M572 931.8 L572.5 932.2 L573 932.7 L573.5 933.1 L574 933.5 L574.5 933.8 L575 934.1 L575.5 934.3 L576 934.4 L576.5 934.5 L577 934.4 L577.5 934.3 L578 934 L578.5 933.6 L579 933 L579.5 932.3 L580 931.4 L580.5 930.4 L581 929.1 L581.5 927.7 L582 926 L582.5 924.2 L583 922.1 L583.5 919.9 L584 917.4 L584.5 914.8 L585 912.1 L585.5 909.2 L586 906.2 L586.5 903.1 L587 900.1 L587.5 897 L588 893.9 L588.5 891 L589 888.2 L589.5 885.6 L590 883.3 L590.5 881.2 L591 879.4 L591.5 878 L592 877 L592.5 876.4 L593 876.2 L593.5 876.5 L594 877.2 L594.5 878.5 L595 880.3 L595.5 882.5 L596 885.2 L596.5 888.3 L597 891.7 L597.5 895.5 L598 899.5 L598.5 903.8 L599 908 L599.5 912.2 L600 916.5 L600.5 920.8 L601 925 L601.5 929.1 L602 933 L602.5 936.9 L603 940.5 L603.5 943.9 L604 947.1 L604.5 950.1 L605 952.8 L605.5 955.3 L606 957.6 L606.5 959.7 L607 961.6 L607.5 963.3 L608 964.8 L608.5 966.1 L609 967.3 L609.5 968.4 L610 969.3 L610.5 970 L611 970.5 L611.5 971 L612 971.5 L612.5 971.9 L613 972.2 L613.5 972.5 L614 972.8 L614.5 973 L615 973.2 L615 973.5 L614.5 973.4 L614 973.2 L613.5 973.1 L613 972.9 L612.5 972.8 L612 972.6 L611.5 972.5 L611 972.3 L610.5 972.2 L610 972.1 L609.5 971.8 L609 971.4 L608.5 971.1 L608 970.8 L607.5 970.4 L607 970.1 L606.5 969.7 L606 969.4 L605.5 969 L605 968.7 L604.5 968.3 L604 968 L603.5 967.6 L603 967.3 L602.5 966.9 L602 966.6 L601.5 966.2 L601 965.9 L600.5 965.5 L600 965.2 L599.5 964.9 L599 964.5 L598.5 964.1 L598 963.5 L597.5 962.9 L597 962.3 L596.5 961.7 L596 961.1 L595.5 960.5 L595 959.9 L594.5 959.3 L594 958.7 L593.5 958.1 L593 957.5 L592.5 956.9 L592 956.3 L591.5 955.7 L591 955.1 L590.5 954.5 L590 953.9 L589.5 953.3 L589 952.7 L588.5 952.1 L588 951.5 L587.5 950.9 L587 950.3 L586.5 949.7 L586 949.1 L585.5 948.5 L585 947.9 L584.5 947.3 L584 946.7 L583.5 946.1 L583 945.4 L582.5 944.8 L582 944.2 L581.5 943.6 L581 943 L580.5 942.4 L580 941.8 L579.5 941.2 L579 940.6 L578.5 940 L578 939.4 L577.5 938.8 L577 938.2 L576.5 937.6 L576 937 L575.5 936.4 L575 935.8 L574.5 935.2 L574 934.6 L573.5 934 L573 933.4 L572.5 932.8 L572 932.2 Z" fill="#f9c89c"/>
<path d="M572 931.8 L572.5 932.2 L573 932.7 L573.5 933.1 L574 933.5 L574.5 933.8 L575 934.1 L575.5 934.3 L576 934.4 L576.5 934.5 L577 934.4 L577.5 934.3 L578 934 L578.5 933.6 L579 933 L579.5 932.3 L580 931.4 L580.5 930.4 L581 929.1 L581.5 927.7 L582 926 L582.5 924.2 L583 922.1 L583.5 919.9 L584 917.4 L584.5 914.8 L585 912.1 L585.5 914.7 L586 918 L586.5 921.3 L587 924.4 L587.5 927.4 L588 930.3 L588.5 933 L589 935.6 L589.5 938 L590 940.3 L590.5 942.4 L591 944.4 L591.5 946.3 L592 948.1 L592.5 949.7 L593 951.3 L593.5 952.7 L594 954 L594.5 955.3 L595 956.5 L595.5 957.6 L596 958.6 L596.5 959.6 L597 960.5 L597.5 961.4 L598 962.2 L598.5 963 L599 963.7 L599.5 964.2 L600 964.6 L600 965.2 L599.5 964.9 L599 964.5 L598.5 964.1 L598 963.5 L597.5 962.9 L597 962.3 L596.5 961.7 L596 961.1 L595.5 960.5 L595 959.9 L594.5 959.3 L594 958.7 L593.5 958.1 L593 957.5 L592.5 956.9 L592 956.3 L591.5 955.7 L591 955.1 L590.5 954.5 L590 953.9 L589.5 953.3 L589 952.7 L588.5 952.1 L588 951.5 L587.5 950.9 L587 950.3 L586.5 949.7 L586 949.1 L585.5 948.5 L585 947.9 L584.5 947.3 L584 946.7 L583.5 946.1 L583 945.4 L582.5 944.8 L582 944.2 L581.5 943.6 L581 943 L580.5 942.4 L580 941.8 L579.5 941.2 L579 940.6 L578.5 940 L578 939.4 L577.5 938.8 L577 938.2 L576.5 937.6 L576 937 L575.5 936.4 L575 935.8 L574.5 935.2 L574 934.6 L573.5 934 L573 933.4 L572.5 932.8 L572 932.2 Z" fill="#f05a44"/>
<path d="M708 984.5 L708.5 984.5 L709 984.5 L709.5 984.5 L710 984.5 L710.5 984.4 L711 984.4 L711.5 984.3 L712 984.2 L712.5 984 L713 983.8 L713.5 983.6 L714 983.3 L714.5 983 L715 982.6 L715.5 982.2 L716 981.7 L716.5 981.1 L717 980.5 L717.5 979.7 L718 978.8 L718.5 977.7 L719 976.5 L719.5 975.1 L720 973.6 L720.5 971.8 L721 969.8 L721.5 967.6 L722 965.2 L722.5 962.6 L723 959.7 L723.5 956.5 L724 953.1 L724.5 949.5 L725 945.6 L725.5 941.5 L726 937.2 L726.5 932.7 L727 928 L727.5 923.1 L728 918.1 L728.5 913 L729 907.8 L729.5 902.7 L730 897.6 L730.5 892.8 L731 888.2 L731.5 883.7 L732 879.4 L732.5 875.4 L733 871.7 L733.5 868.3 L734 865.3 L734.5 862.7 L735 860.5 L735.5 858.9 L736 857.7 L736.5 857.1 L737 857.1 L737.5 857.6 L738 858.5 L738.5 859.9 L739 861.7 L739.5 863.9 L740 866.5 L740.5 869.4 L741 872.8 L741.5 876.5 L742 880.5 L742.5 884.7 L743 889.3 L743.5 894 L744 899 L744.5 904 L745 909.3 L745.5 914.5 L746 919.9 L746.5 925.2 L747 930.6 L747.5 935.9 L748 941.1 L748.5 946.2 L749 951.3 L749.5 956.2 L750 960.9 L750.5 965.6 L751 970 L751.5 974.2 L752 978.3 L752.5 982.2 L753 985.8 L753.5 989.3 L754 992.6 L754.5 995.7 L755 998.6 L755.5 1001.3 L756 1003.8 L756.5 1006.1 L757 1008.2 L757.5 1010.2 L758 1012 L758.5 1013.8 L759 1015.4 L759.5 1016.8 L760 1018.2 L760.5 1019.5 L761 1020.7 L761.5 1021.8 L762 1022.8 L762.5 1023.8 L763 1024.7 L763.5 1025.6 L764 1026.4 L764.5 1027.1 L765 1027.9 L765.5 1028.6 L766 1029.2 L766.5 1029.9 L767 1030.5 L767.5 1031.1 L768 1031.5 L768 1031.9 L767.5 1031.6 L767 1031.1 L766.5 1030.6 L766 1030.1 L765.5 1029.6 L765 1029.1 L764.5 1028.6 L764 1028.1 L763.5 1027.6 L763 1027.1 L762.5 1026.6 L762 1026.1 L761.5 1025.6 L761 1025.1 L760.5 1024.6 L760 1024.1 L759.5 1023.6 L759 1023.1 L758.5 1022.6 L758 1022.1 L757.5 1021.6 L757 1021.1 L756.5 1020.6 L756 1020.1 L755.5 1019.6 L755 1019.1 L754.5 1018.5 L754 1017.9 L753.5 1017.3 L753 1016.8 L752.5 1016.2 L752 1015.6 L751.5 1015 L751 1014.4 L750.5 1013.8 L750 1013.2 L749.5 1012.7 L749 1012.1 L748.5 1011.5 L748 1010.9 L747.5 1010.3 L747 1009.8 L746.5 1009.2 L746 1008.6 L745.5 1008 L745 1007.4 L744.5 1006.8 L744 1006.2 L743.5 1005.7 L743 1005.1 L742.5 1004.5 L742 1004 L741.5 1003.4 L741 1002.9 L740.5 1002.3 L740 1001.8 L739.5 1001.2 L739 1000.7 L738.5 1000.2 L738 999.6 L737.5 999.1 L737 998.5 L736.5 998 L736 997.4 L735.5 996.9 L735 996.3 L734.5 995.8 L734 995.3 L733.5 994.7 L733 994.2 L732.5 993.6 L732 993.1 L731.5 992.5 L731 992 L730.5 991.5 L730 990.9 L729.5 990.7 L729 990.5 L728.5 990.3 L728 990.1 L727.5 989.9 L727 989.8 L726.5 989.6 L726 989.4 L725.5 989.2 L725 989 L724.5 988.9 L724 988.7 L723.5 988.5 L723 988.3 L722.5 988.1 L722 988 L721.5 987.8 L721 987.6 L720.5 987.4 L720 987.2 L719.5 987.1 L719 986.9 L718.5 986.7 L718 986.5 L717.5 986.3 L717 986.1 L716.5 986 L716 985.8 L715.5 985.6 L715 985.5 L714.5 985.4 L714 985.4 L713.5 985.3 L713 985.2 L712.5 985.2 L712 985.1 L711.5 985.1 L711 985 L710.5 984.9 L710 984.9 L709.5 984.8 L709 984.8 L708.5 984.7 L708 984.6 Z" fill="#98d69b"/>
<path d="M728 990 L728.5 990.2 L729 990.3 L729.5 990.4 L730 990.6 L730.5 991.1 L731 991.5 L731.5 991.9 L732 992.2 L732.5 992.5 L733 992.8 L733.5 992.9 L734 993 L734.5 993 L735 992.9 L735.5 992.6 L736 992.2 L736.5 991.6 L737 990.8 L737.5 989.8 L738 988.5 L738.5 986.9 L739 985 L739.5 982.8 L740 980.2 L740.5 977.2 L741 973.9 L741.5 970.1 L742 965.9 L742.5 961.3 L743 956.3 L743.5 950.9 L744 945.1 L744.5 939 L745 932.7 L745.5 926.1 L746 919.3 L746.5 912.5 L747 905.6 L747.5 898.9 L748 892.3 L748.5 886 L749 880.1 L749.5 874.7 L750 869.9 L750.5 865.8 L751 862.3 L751.5 859.7 L752 858 L752.5 857.2 L753 857.3 L753.5 858.3 L754 860.1 L754.5 862.7 L755 866 L755.5 870 L756 874.6 L756.5 879.9 L757 885.7 L757.5 891.9 L758 898.6 L758.5 905.5 L759 912.7 L759.5 920 L760 927.4 L760.5 934.8 L761 942.1 L761.5 949.3 L762 956.3 L762.5 963.1 L763 969.6 L763.5 975.8 L764 981.7 L764.5 987.2 L765 992.4 L765.5 997.2 L766 1001.7 L766.5 1005.8 L767 1009.5 L767.5 1012.9 L768 1015.8 L768.5 1018.3 L769 1020.4 L769.5 1022.3 L770 1024 L770.5 1025.5 L771 1026.8 L771.5 1027.9 L772 1028.9 L772.5 1029.7 L773 1030.4 L773.5 1031.1 L774 1031.6 L774.5 1032.1 L775 1032.5 L775.5 1032.9 L776 1033.2 L776.5 1033.4 L777 1033.7 L777.5 1033.9 L778 1034.1 L778.5 1034.3 L779 1034.5 L779.5 1034.7 L780 1034.8 L780 1034.9 L779.5 1034.8 L779 1034.6 L778.5 1034.5 L778 1034.4 L777.5 1034.3 L777 1034.1 L776.5 1034 L776 1033.9 L775.5 1033.8 L775 1033.6 L774.5 1033.5 L774 1033.4 L773.5 1033.3 L773 1033.1 L772.5 1033 L772 1032.9 L771.5 1032.8 L771 1032.6 L770.5 1032.5 L770 1032.4 L769.5 1032.3 L769 1032.1 L768.5 1032 L768 1031.9 L767.5 1031.6 L767 1031.1 L766.5 1030.6 L766 1030.1 L765.5 1029.6 L765 1029.1 L764.5 1028.6 L764 1028.1 L763.5 1027.6 L763 1027.1 L762.5 1026.6 L762 1026.1 L761.5 1025.6 L761 1025.1 L760.5 1024.6 L760 1024.1 L759.5 1023.6 L759 1023.1 L758.5 1022.6 L758 1022.1 L757.5 1021.6 L757 1021.1 L756.5 1020.6 L756 1020.1 L755.5 1019.6 L755 1019.1 L754.5 1018.5 L754 1017.9 L753.5 1017.3 L753 1016.8 L752.5 1016.2 L752 1015.6 L751.5 1015 L751 1014.4 L750.5 1013.8 L750 1013.2 L749.5 1012.7 L749 1012.1 L748.5 1011.5 L748 1010.9 L747.5 1010.3 L747 1009.8 L746.5 1009.2 L746 1008.6 L745.5 1008 L745 1007.4 L744.5 1006.8 L744 1006.2 L743.5 1005.7 L743 1005.1 L742.5 1004.5 L742 1004 L741.5 1003.4 L741 1002.9 L740.5 1002.3 L740 1001.8 L739.5 1001.2 L739 1000.7 L738.5 1000.2 L738 999.6 L737.5 999.1 L737 998.5 L736.5 998 L736 997.4 L735.5 996.9 L735 996.3 L734.5 995.8 L734 995.3 L733.5 994.7 L733 994.2 L732.5 993.6 L732 993.1 L731.5 992.5 L731 992 L730.5 991.5 L730 990.9 L729.5 990.7 L729 990.5 L728.5 990.3 L728 990.1 Z" fill="#9aa0d6"/>
<path d="M728 990 L728.5 990.2 L729 990.3 L729.5 990.4 L730 990.6 L730.5 991.1 L731 991.5 L731.5 991.9 L732 992.2 L732.5 992.5 L733 992.8 L733.5 992.9 L734 993 L734.5 993 L735 992.9 L735.5 992.6 L736 992.2 L736.5 991.6 L737 990.8 L737.5 989.8 L738 988.5 L738.5 986.9 L739 985 L739.5 982.8 L740 980.2 L740.5 977.2 L741 973.9 L741.5 970.1 L742 965.9 L742.5 961.3 L743 956.3 L743.5 950.9 L744 945.1 L744.5 939 L745 932.7 L745.5 926.1 L746 919.9 L746.5 925.2 L747 930.6 L747.5 935.9 L748 941.1 L748.5 946.2 L749 951.3 L749.5 956.2 L750 960.9 L750.5 965.6 L751 970 L751.5 974.2 L752 978.3 L752.5 982.2 L753 985.8 L753.5 989.3 L754 992.6 L754.5 995.7 L755 998.6 L755.5 1001.3 L756 1003.8 L756.5 1006.1 L757 1008.2 L757.5 1010.2 L758 1012 L758.5 1013.8 L759 1015.4 L759.5 1016.8 L760 1018.2 L760.5 1019.5 L761 1020.7 L761.5 1021.8 L762 1022.8 L762.5 1023.8 L763 1024.7 L763.5 1025.6 L764 1026.4 L764.5 1027.1 L765 1027.9 L765.5 1028.6 L766 1029.2 L766.5 1029.9 L767 1030.5 L767.5 1031.1 L768 1031.5 L768 1031.9 L767.5 1031.6 L767 1031.1 L766.5 1030.6 L766 1030.1 L765.5 1029.6 L765 1029.1 L764.5 1028.6 L764 1028.1 L763.5 1027.6 L763 1027.1 L762.5 1026.6 L762 1026.1 L761.5 1025.6 L761 1025.1 L760.5 1024.6 L760 1024.1 L759.5 1023.6 L759 1023.1 L758.5 1022.6 L758 1022.1 L757.5 1021.6 L757 1021.1 L756.5 1020.6 L756 1020.1 L755.5 1019.6 L755 1019.1 L754.5 1018.5 L754 1017.9 L753.5 1017.3 L753 1016.8 L752.5 1016.2 L752 1015.6 L751.5 1015 L751 1014.4 L750.5 1013.8 L750 1013.2 L749.5 1012.7 L749 1012.1 L748.5 1011.5 L748 1010.9 L747.5 1010.3 L747 1009.8 L746.5 1009.2 L746 1008.6 L745.5 1008 L745 1007.4 L744.5 1006.8 L744 1006.2 L743.5 1005.7 L743 1005.1 L742.5 1004.5 L742 1004 L741.5 1003.4 L741 1002.9 L740.5 1002.3 L740 1001.8 L739.5 1001.2 L739 1000.7 L738.5 1000.2 L738 999.6 L737.5 999.1 L737 998.5 L736.5 998 L736 997.4 L735.5 996.9 L735 996.3 L734.5 995.8 L734 995.3 L733.5 994.7 L733 994.2 L732.5 993.6 L732 993.1 L731.5 992.5 L731 992 L730.5 991.5 L730 990.9 L729.5 990.7 L729 990.5 L728.5 990.3 L728 990.1 Z" fill="#12a97a"/>
<path d="M745 1007 L745.5 1007.5 L746 1007.9 L746.5 1008.2 L747 1008.5 L747.5 1008.6 L748 1008.7 L748.5 1008.7 L749 1008.4 L749.5 1008.1 L750 1007.5 L750.5 1006.7 L751 1005.6 L751.5 1004.3 L752 1002.8 L752.5 1000.9 L753 998.7 L753.5 996.3 L754 993.6 L754.5 990.7 L755 987.5 L755.5 984.2 L756 980.8 L756.5 977.4 L757 974 L757.5 970.9 L758 968 L758.5 965.4 L759 963.3 L759.5 961.7 L760 960.6 L760.5 960.1 L761 960.3 L761.5 961 L762 962.2 L762.5 963.8 L763 965.8 L763.5 968.2 L764 970.9 L764.5 973.9 L765 977.2 L765.5 980.7 L766 984.3 L766.5 988 L767 991.8 L767.5 995.6 L768 999.1 L768.5 1002.3 L769 1005.5 L769.5 1008.5 L770 1011.3 L770.5 1014 L771 1016.5 L771.5 1018.7 L772 1020.8 L772.5 1022.7 L773 1024.4 L773.5 1025.9 L774 1027.2 L774.5 1028.4 L775 1029.4 L775.5 1030.3 L776 1031 L776.5 1031.7 L777 1032.3 L777.5 1032.8 L778 1033.2 L778.5 1033.6 L779 1033.9 L779.5 1034.2 L780 1034.5 L780.5 1034.7 L781 1034.7 L781.5 1034.8 L782 1034.9 L782 1035 L781.5 1035 L781 1035 L780.5 1035 L780 1034.9 L779.5 1034.8 L779 1034.6 L778.5 1034.5 L778 1034.4 L777.5 1034.3 L777 1034.1 L776.5 1034 L776 1033.9 L775.5 1033.8 L775 1033.6 L774.5 1033.5 L774 1033.4 L773.5 1033.3 L773 1033.1 L772.5 1033 L772 1032.9 L771.5 1032.8 L771 1032.6 L770.5 1032.5 L770 1032.4 L769.5 1032.3 L769 1032.1 L768.5 1032 L768 1031.9 L767.5 1031.6 L767 1031.1 L766.5 1030.6 L766 1030.1 L765.5 1029.6 L765 1029.1 L764.5 1028.6 L764 1028.1 L763.5 1027.6 L763 1027.1 L762.5 1026.6 L762 1026.1 L761.5 1025.6 L761 1025.1 L760.5 1024.6 L760 1024.1 L759.5 1023.6 L759 1023.1 L758.5 1022.6 L758 1022.1 L757.5 1021.6 L757 1021.1 L756.5 1020.6 L756 1020.1 L755.5 1019.6 L755 1019.1 L754.5 1018.5 L754 1017.9 L753.5 1017.3 L753 1016.8 L752.5 1016.2 L752 1015.6 L751.5 1015 L751 1014.4 L750.5 1013.8 L750 1013.2 L749.5 1012.7 L749 1012.1 L748.5 1011.5 L748 1010.9 L747.5 1010.3 L747 1009.8 L746.5 1009.2 L746 1008.6 L745.5 1008 L745 1007.4 Z" fill="#6e62b4"/>
<path d="M486.6 886.6 C489.4 888.1 497.6 891.4 503.3 895.5 C509 899.6 515.1 907.5 521 911 C526.9 914.5 533.2 915.5 538.8 916.6 C544.4 917.7 550 916.4 554.4 917.7 C558.8 919 561.7 921 565.4 924.3 C569.1 927.6 572.8 933.1 576.5 937.6 C580.2 942.1 583.9 946.5 587.6 951 C591.3 955.5 595 960.8 598.7 964.3 C602.4 967.8 605.3 970 609.8 972 C614.2 974 617 975.5 625.4 976.5 C633.8 977.5 646.4 976.7 660 978 C673.6 979.3 697.6 983.2 706.8 984.5 C716 985.8 711.4 984.5 715.2 985.5 C719.1 986.5 725.4 987.6 729.9 990.8 C734.4 994 738.3 999.8 742.5 1004.5 C746.7 1009.2 750.9 1014.7 755.1 1019.2 C759.3 1023.8 763.5 1029.2 767.7 1031.8 C771.9 1034.4 776.5 1034.5 780.4 1035 C784.3 1035.5 785.3 1036.4 790.9 1035 C796.5 1033.6 810.1 1027.9 814 1026.5" fill="none" stroke="#e8404a" stroke-width="0.9" stroke-dasharray="6 2 1 2"/>
<path d="M485.5 885 L486.7 882 L487.8 881.9 L489 880 L490.1 877.8 L491.1 877.5 L492.2 875.5 L493.1 875.3 L494.1 871.6 L495 873 L496 870 L496.9 873.8 L497.9 870.2 L498.9 871 L499.9 865.1 L501 862 L502 861.6 L503 856 L504.4 852.9 L506 860 L507.7 872.2 L509 866 L510 862.8 L511 860 L512.5 868 L513.5 874.6 L514.4 877.7 L516 876 L517.7 880 L518.9 885.9 L520 892 L521.1 897.8 L522.2 902.1 L523.1 898.9 L524.1 900.1 L525 898 L525.9 900.2 L526.8 898.7 L527.7 898.8 L528.8 901.1 L529.9 901.8 L531 902 L532.1 900.1 L533.3 904.1 L534.4 903.2 L535.5 907.1 L536.5 910 L537.6 913.4 L538.8 918.8 L539.9 911 L541 908 L542.1 908.1 L543.3 904.4 L544.2 905.8 L545.1 908.6 L546 909 L546.9 911.6 L547.9 911.4 L548.8 911 L549.7 911.2 L550.6 906.5 L551.5 905 L552.5 905.6 L553.4 902.8 L554.4 902.1 L555.5 902.3 L556.5 898 L557.6 897.6 L558.8 893.3 L559.9 886.6 L561 884 L562.1 879.5 L563.2 878.8 L564.1 875.7 L565.1 878 L566 874 L566.9 872.7 L567.9 872.7 L568.8 871 L569.7 867.6 L570.6 866.4 L571.5 864 L572.4 861.7 L573.4 859.8 L574.3 858.8 L575.4 860.8 L576.5 862 L577.6 862.5 L578.8 862.2 L579.7 866.2 L580.6 867 L581.5 868 L582.4 872 L583.4 873.4 L584.3 873.3 L585.4 873.4 L586.4 869.3 L587.5 866 L588.7 862.6 L589.8 864.6 L591 861.1 L592.2 865.5 L593.5 865 L594.5 868.8 L595.5 868.7 L596.5 870 L597.8 878.1 L599 884 L600 889.3 L601 897.7 L602 907.1 L603 913 L604.2 922.4 L605.4 931 L606.7 937.4 L608 946 L609 948.3 L610 957 L611 959.8 L612.2 963.4 L613.5 962 L614.5 959.9 L615.5 963.6 L616.5 962 L617.7 960.2 L618.8 957.5 L620 958 L621.1 957.5 L622.1 960.6 L623.2 959.8 L624.3 963.5 L625.4 960.9 L626.5 965 L627.6 966.8 L628.7 965.1 L629.8 968.7 L630.7 971.3 L631.6 970.7 L632.5 973 L633.5 976.5 L634.4 978.6 L635.4 977.6 L636.4 977.4 L637.5 979.8 L638.5 977 L639.7 975.5 L640.8 973.7 L642 975.4 L643 973.1 L644 967.4 L645 967 L646.3 960.7 L647.6 957.6 L648.6 953.3 L649.5 950.4 L650.5 946 L651.4 941.3 L652.3 937.8 L653.2 937.2 L654.2 937.3 L655.3 932.7 L656.3 931.9 L657.2 933.8 L658.1 933 L659.1 929.8 L660 930 L660.9 929.3 L661.9 929.2 L662.8 929.4 L663.8 928.7 L664.7 927.7 L665.8 928.4 L666.9 929.2 L668 929 L669 931.2 L670 928.9 L671.1 928.5 L672.1 928.8 L673.2 938.3 L674.2 945.6 L675.2 945.3 L676.3 946.7 L677.4 951.2 L678.4 949.8 L679.7 950.3 L681 950.5 L682.3 952.5 L683.6 954 L684.7 953.5 L685.8 958 L686.8 959.8 L687.8 962.4 L688.7 963 L689.6 960.3 L690.5 963 L691.8 964.4 L693.1 964.5 L694.2 968.3 L695.2 970.8 L696.4 969.6 L697.5 973 L698.5 974.7 L699.4 975 L700.7 976.1 L702 977.5 L702.9 979 L703.8 977.9 L704.7 979.2 L705.8 976.1 L706.8 970.8 L707.9 976.6 L709 980 L710 981.3 L711 987.6 L712 976.9 L713.1 970.8 L714.1 969.6 L715.2 969 L716.2 964.5 L717.3 958.3 L718.3 954.5 L719.4 949.8 L720.4 947.5 L721.5 943.3 L722.5 941.4 L723.6 932.3 L724.6 923.6 L725.7 916.2 L726.8 909.7 L727.8 905.1 L728.9 897.8 L729.9 893 L731 887.5 L732 884.6 L733.1 878.3 L734.2 865.3 L735.2 857.3 L736.2 852.1 L737.3 847.3 L738.3 840.5 L739.3 840 L740.4 841.5 L741.5 843.9 L742.5 850.8 L743.6 853.1 L744.6 847.2 L745.7 842.3 L746.7 839.4 L747.7 838.3 L748.6 838.9 L749.5 835 L750.5 836.3 L751.8 826.4 L753 818.4 L754.1 817.2 L755.1 819.4 L756.2 817.3 L757.2 821.2 L758.3 825.7 L759.3 837 L760.4 844.7 L761.5 859.8 L762.5 878.3 L763.5 898.5 L764.6 920.4 L765.6 937.3 L766.7 954.6 L767.7 968.7 L768.8 977.6 L769.8 985.5 L770.9 996.1 L772 999.1 L773 1006 L774 1009.6 L775.1 1012.9 L776.1 1013.9 L777.2 1019.7 L778.2 1022.5 L779.3 1023.4 L780.2 1022.3 L781.1 1023.3 L782 1025 L783.3 1027.9 L784.6 1027.6 L785.8 1029.5 L787 1030 L787.9 1033.9 L788.9 1033.9 L789.8 1037 L790.7 1032.7 L791.6 1031.3 L792.5 1030 L793.8 1029.3 L795.1 1025.5 L796.1 1025.5 L797 1027 L798 1029 L799.1 1028.4 L800.3 1028.3 L801.4 1028.6 L802.4 1026.9 L803.5 1028.4 L804.5 1025 L805.6 1022.7 L806.6 1021.4 L807.7 1023.4 L808.8 1025.2 L809.9 1024.4 L811 1022 L812 1024.1 L813 1020.8 L814 1023 L815 1020.2" fill="none" stroke="#000" stroke-width="2" stroke-linejoin="round"/>
<text x="506" y="844.4" font-family='"Liberation Serif", serif' font-size="15.5" font-weight="bold" text-anchor="middle" fill="#000" >sat.</text>
<text x="669" y="919.3" font-family='"Liberation Serif", serif' font-size="15.5" font-weight="bold" text-anchor="middle" fill="#000" >sat.</text>
<text x="559.9" y="844.9" font-family='"Liberation Serif", serif' font-size="16.5" font-weight="bold" text-anchor="start" fill="#000" >Cu 2p<tspan dy="4" font-size="10">1/2</tspan></text>
<text x="732" y="805.1" font-family='"Liberation Serif", serif' font-size="16.5" font-weight="bold" text-anchor="start" fill="#000" >Cu 2p<tspan dy="4" font-size="10">3/2</tspan></text>
<text x="7" y="1177.5" font-family='"Liberation Serif", serif' font-size="31" font-weight="bold" text-anchor="start" fill="#000" >(c)</text>
<defs>
<clipPath id="cphoto"><rect x="10" y="1183" width="381" height="343.5"/></clipPath>
<filter id="blur8" x="-50%" y="-50%" width="200%" height="200%"><feGaussianBlur stdDeviation="18"/></filter>
<filter id="blurbg" x="-10%" y="-10%" width="120%" height="120%"><feGaussianBlur stdDeviation="28"/></filter>
<filter id="blur3" x="-20%" y="-20%" width="140%" height="140%"><feGaussianBlur stdDeviation="3"/></filter>
<filter id="blur1" x="-20%" y="-20%" width="140%" height="140%"><feGaussianBlur stdDeviation="1.1"/></filter>
<filter id="blur06" x="-20%" y="-20%" width="140%" height="140%"><feGaussianBlur stdDeviation="0.6"/></filter>
<filter id="blur09" x="-20%" y="-20%" width="140%" height="140%"><feGaussianBlur stdDeviation="0.9"/></filter>
<linearGradient id="tubeg" x1="0" y1="0" x2="1" y2="0">
<stop offset="0" stop-color="#cfcfcd"/><stop offset="0.12" stop-color="#eeeeec"/><stop offset="0.35" stop-color="#f6f6f4"/>
<stop offset="0.7" stop-color="#e6e6e4"/><stop offset="0.92" stop-color="#d3d3d1"/><stop offset="1" stop-color="#bdbdbb"/></linearGradient>
<radialGradient id="topg" cx="0.45" cy="0.45" r="0.6">
<stop offset="0" stop-color="#f4f4f2"/><stop offset="0.8" stop-color="#efefed"/><stop offset="1" stop-color="#e4e4e2"/></radialGradient>
<linearGradient id="sideg" x1="0" y1="0" x2="0" y2="1">
<stop offset="0" stop-color="#e9e9e7"/><stop offset="0.7" stop-color="#e0e0de"/><stop offset="1" stop-color="#c9c9c7"/></linearGradient>
</defs>
<g clip-path="url(#cphoto)">
<rect x="10" y="1183" width="381" height="343.5" fill="#4a4a48"/>
<g filter="url(#blurbg)"><rect x="-50" y="1123" width="124" height="117.8" fill="#686763"/><rect x="73.5" y="1123" width="64" height="117.8" fill="#63625e"/><rect x="137" y="1123" width="64" height="117.8" fill="#5b5c58"/><rect x="200.5" y="1123" width="64" height="117.8" fill="#4e514d"/><rect x="264" y="1123" width="64" height="117.8" fill="#575a56"/><rect x="327.5" y="1123" width="124" height="117.8" fill="#3c3e3b"/><rect x="-50" y="1240.2" width="124" height="57.8" fill="#6a6865"/><rect x="73.5" y="1240.2" width="64" height="57.8" fill="#62615e"/><rect x="137" y="1240.2" width="64" height="57.8" fill="#585855"/><rect x="200.5" y="1240.2" width="64" height="57.8" fill="#4c4d4a"/><rect x="264" y="1240.2" width="64" height="57.8" fill="#4b4c49"/><rect x="327.5" y="1240.2" width="124" height="57.8" fill="#424341"/><rect x="-50" y="1297.5" width="124" height="57.8" fill="#63615f"/><rect x="73.5" y="1297.5" width="64" height="57.8" fill="#5b5a58"/><rect x="137" y="1297.5" width="64" height="57.8" fill="#555553"/><rect x="200.5" y="1297.5" width="64" height="57.8" fill="#4a4a48"/><rect x="264" y="1297.5" width="64" height="57.8" fill="#444543"/><rect x="327.5" y="1297.5" width="124" height="57.8" fill="#3f403e"/><rect x="-50" y="1354.8" width="124" height="57.8" fill="#585654"/><rect x="73.5" y="1354.8" width="64" height="57.8" fill="#504f4d"/><rect x="137" y="1354.8" width="64" height="57.8" fill="#4a4a48"/><rect x="200.5" y="1354.8" width="64" height="57.8" fill="#444442"/><rect x="264" y="1354.8" width="64" height="57.8" fill="#3e3f3d"/><rect x="327.5" y="1354.8" width="124" height="57.8" fill="#3a3b39"/><rect x="-50" y="1412" width="124" height="57.8" fill="#4b4947"/><rect x="73.5" y="1412" width="64" height="57.8" fill="#434240"/><rect x="137" y="1412" width="64" height="57.8" fill="#3e3e3c"/><rect x="200.5" y="1412" width="64" height="57.8" fill="#3a3a38"/><rect x="264" y="1412" width="64" height="57.8" fill="#373836"/><rect x="327.5" y="1412" width="124" height="57.8" fill="#353634"/><rect x="-50" y="1469.2" width="124" height="117.8" fill="#3d3c3a"/><rect x="73.5" y="1469.2" width="64" height="117.8" fill="#363634"/><rect x="137" y="1469.2" width="64" height="117.8" fill="#323230"/><rect x="200.5" y="1469.2" width="64" height="117.8" fill="#30302f"/><rect x="264" y="1469.2" width="64" height="117.8" fill="#313230"/><rect x="327.5" y="1469.2" width="124" height="117.8" fill="#30302e"/></g>
<ellipse cx="305" cy="1205" rx="28" ry="20" fill="#62655f" filter="url(#blur8)" opacity="0.8"/>
<ellipse cx="385" cy="1188" rx="14" ry="10" fill="#2f322f" filter="url(#blur3)"/>
<ellipse cx="205" cy="1445" rx="136" ry="92" fill="#262624" filter="url(#blur3)" opacity="0.5"/>
<path d="M72.5 1400 L76 1427 A122 89 0 0 0 320 1427 L330.5 1400 Z" fill="url(#sideg)"/>
<ellipse cx="198" cy="1427" rx="122" ry="89" fill="url(#sideg)"/>
<ellipse cx="201.5" cy="1400" rx="129" ry="90" fill="url(#topg)" stroke="#dcdcda" stroke-width="1"/>
<ellipse cx="180" cy="1365" rx="30" ry="40" fill="#cdcdcb" filter="url(#blur3)" opacity="0.8"/>
<g filter="url(#blur09)"><line x1="106" y1="1358.7" x2="92.9" y2="1412.9" stroke="#c6c6c4" stroke-width="5"/><line x1="117.2" y1="1358.7" x2="106" y2="1412.9" stroke="#c6c6c4" stroke-width="5"/><line x1="129.3" y1="1358.7" x2="120" y2="1412.9" stroke="#c6c6c4" stroke-width="5"/><line x1="141.5" y1="1358.7" x2="133.1" y2="1412.9" stroke="#c6c6c4" stroke-width="5"/><line x1="151.8" y1="1358.7" x2="146.1" y2="1412.9" stroke="#c6c6c4" stroke-width="5"/><line x1="250.3" y1="1357.8" x2="257.3" y2="1408.7" stroke="#c6c6c4" stroke-width="5"/><line x1="262.5" y1="1357.8" x2="269.5" y2="1408.7" stroke="#c6c6c4" stroke-width="5"/><line x1="274.8" y1="1357.8" x2="281.8" y2="1408.7" stroke="#c6c6c4" stroke-width="5"/><line x1="287.1" y1="1357.8" x2="294.1" y2="1408.7" stroke="#c6c6c4" stroke-width="5"/><line x1="299.4" y1="1357.8" x2="309.9" y2="1408.7" stroke="#c6c6c4" stroke-width="5"/><line x1="103.5" y1="1358.7" x2="90.4" y2="1412.9" stroke="#5e5e5c" stroke-width="1.9"/><line x1="114.7" y1="1358.7" x2="103.5" y2="1412.9" stroke="#5e5e5c" stroke-width="1.9"/><line x1="126.8" y1="1358.7" x2="117.5" y2="1412.9" stroke="#5e5e5c" stroke-width="1.9"/><line x1="139" y1="1358.7" x2="130.6" y2="1412.9" stroke="#5e5e5c" stroke-width="1.9"/><line x1="149.3" y1="1358.7" x2="143.6" y2="1412.9" stroke="#5e5e5c" stroke-width="1.9"/><line x1="252.8" y1="1357.8" x2="259.8" y2="1408.7" stroke="#5e5e5c" stroke-width="1.9"/><line x1="265" y1="1357.8" x2="272" y2="1408.7" stroke="#5e5e5c" stroke-width="1.9"/><line x1="277.3" y1="1357.8" x2="284.3" y2="1408.7" stroke="#5e5e5c" stroke-width="1.9"/><line x1="289.6" y1="1357.8" x2="296.6" y2="1408.7" stroke="#5e5e5c" stroke-width="1.9"/><line x1="301.9" y1="1357.8" x2="312.4" y2="1408.7" stroke="#5e5e5c" stroke-width="1.9"/><line x1="162" y1="1429.7" x2="249" y2="1429.7" stroke="#b4b4b2" stroke-width="3.2"/><line x1="162" y1="1441.9" x2="249" y2="1441.9" stroke="#b4b4b2" stroke-width="3.2"/><line x1="162" y1="1454" x2="249" y2="1454" stroke="#b4b4b2" stroke-width="3.2"/><line x1="162" y1="1467.1" x2="249" y2="1467.1" stroke="#b4b4b2" stroke-width="3.2"/><line x1="162" y1="1479.3" x2="249" y2="1479.3" stroke="#b4b4b2" stroke-width="3.2"/><line x1="168" y1="1322" x2="236" y2="1322" stroke="#d6d6d4" stroke-width="2.5"/><line x1="168" y1="1330" x2="236" y2="1330" stroke="#d6d6d4" stroke-width="2.5"/><line x1="168" y1="1338" x2="236" y2="1338" stroke="#d6d6d4" stroke-width="2.5"/><line x1="168" y1="1346" x2="236" y2="1346" stroke="#d6d6d4" stroke-width="2.5"/></g>
<path d="M172.5 1180 L240 1180 L232 1300 L226 1385 Q224 1398 205 1398 Q184 1398 182.5 1386 L177 1300 Z" fill="url(#tubeg)" filter="url(#blur06)"/>
<path d="M184.4 1431 L236.3 1429.7 L237.3 1475.3 L185.5 1476.2 Z" fill="#2b2b2a" filter="url(#blur06)"/>
<circle cx="211" cy="1452" r="10" fill="none" stroke="#3a3a39" stroke-width="2"/>
<circle cx="141.8" cy="1438.1" r="2" fill="#6e6e6c" filter="url(#blur06)"/>
</g>
<text x="346.6" y="1499.1" font-family='"Liberation Serif", serif' font-size="20.5" font-weight="bold" text-anchor="middle" fill="#fff" >1 cm</text>
<rect x="324.5" y="1506" width="50.7" height="2.8" fill="#fff"/>
<text x="407.5" y="1176" font-family='"Liberation Serif", serif' font-size="31" font-weight="bold" text-anchor="start" fill="#000" >(d)</text>
<defs>
<clipPath id="csem"><rect x="407.7" y="1182.5" width="214.5" height="168.6"/></clipPath>
<filter id="semtex" x="0" y="0" width="100%" height="100%" color-interpolation-filters="sRGB">
<feTurbulence type="fractalNoise" baseFrequency="0.05" numOctaves="4" seed="4" result="t"/>
<feDiffuseLighting in="t" surfaceScale="7" diffuseConstant="1.0" lighting-color="#fff" result="l">
<feDistantLight azimuth="225" elevation="45"/>
</feDiffuseLighting>
<feColorMatrix in="l" type="matrix" values="1 0 0 0 0  0 1 0 0 0  0 0 1 0 0  0 0 0 0 1"/>
</filter>
<filter id="spk_c" x="0" y="0" width="100%" height="100%" color-interpolation-filters="sRGB">
<feTurbulence type="fractalNoise" baseFrequency="0.34" numOctaves="2" seed="11"/>
<feColorMatrix type="matrix" values="0 0 0 0 0.53  0 0 0 0 0.11  0 0 0 0 0.46  2.0 0 0 0 -0.55"/>
<feGaussianBlur stdDeviation="0.75"/>
</filter>
<filter id="spk_n" x="0" y="0" width="100%" height="100%" color-interpolation-filters="sRGB">
<feTurbulence type="fractalNoise" baseFrequency="0.34" numOctaves="2" seed="5"/>
<feColorMatrix type="matrix" values="0 0 0 0 0.06  0 0 0 0 0.40  0 0 0 0 0.38  7 0 0 0 -4.3"/>
<feGaussianBlur stdDeviation="0.6"/>
</filter>
<filter id="spk_u" x="0" y="0" width="100%" height="100%" color-interpolation-filters="sRGB">
<feTurbulence type="fractalNoise" baseFrequency="0.42" numOctaves="2" seed="9"/>
<feColorMatrix type="matrix" values="0 0 0 0 0.58  0 0 0 0 0.39  0 0 0 0 0.11  4.2 0 0 0 -1.95"/>
<feGaussianBlur stdDeviation="0.6"/>
</filter>
<linearGradient id="cmapg" x1="0" y1="0" x2="1" y2="0.6">
<stop offset="0" stop-color="#000" stop-opacity="0"/><stop offset="0.5" stop-color="#000" stop-opacity="0.15"/><stop offset="1" stop-color="#000" stop-opacity="0.45"/></linearGradient>
</defs>
<g clip-path="url(#csem)">
<rect x="407.7" y="1182.5" width="214.5" height="168.6" fill="#858585"/>
<g filter="url(#blur3)">
<ellipse cx="445" cy="1318" rx="45" ry="34" fill="#9c9c9c"/>
<ellipse cx="445" cy="1215" rx="45" ry="30" fill="#8e8e8e"/>
<ellipse cx="585" cy="1262" rx="40" ry="38" fill="#969696"/>
<path d="M405 1255 L430 1256 L455 1263 L480 1272 L505 1285 L530 1295 L555 1305 L570 1318 L560 1335 L540 1356 L515 1356 L505 1335 L492 1315 L478 1300 L458 1290 L430 1282 L405 1276 Z" fill="#5e5e5e"/>
</g>
<g filter="url(#blur1)">
<path d="M483 1178 L630 1178 L630 1208.5 L622 1208.5 L607.6 1207 L596.7 1211.8 L580.5 1207 L572.3 1208.5 L567 1200.3 L556 1186.8 L543.9 1190.8 L534.4 1196.3 L523.5 1197.6 L510 1193 L495 1188 Z" fill="#4b4b4b"/>
<path d="M528 1356 L545 1335 L560 1326 L586 1313 L605 1311 L630 1309 L630 1356 Z" fill="#4f4f4f"/>
</g>
<rect x="407.7" y="1182.5" width="214.5" height="168.6" filter="url(#semtex)" opacity="0.4" style="mix-blend-mode:overlay"/>
<g filter="url(#blur06)"><path d="M440.5 1298.5 C439.7 1297.7 437 1296.3 436 1293.8 C434.9 1291.2 434.6 1286.4 434.1 1283.3 C433.5 1280.1 433.5 1276.9 432.7 1274.8 C432 1272.8 430.1 1271.6 429.6 1270.9" fill="none" stroke="#c8c8c8" stroke-width="1" opacity="0.3"/><path d="M419.9 1314.1 C420.4 1314.8 423.1 1316 423.1 1318.3 C423 1320.6 421.6 1325.6 419.6 1327.8 C417.6 1330.1 412.9 1330.2 411.3 1332.1 C409.7 1334 410.3 1338.1 410.1 1339.3" fill="none" stroke="#c8c8c8" stroke-width="1" opacity="0.2"/><path d="M609.7 1250.3 C609.6 1251.2 610.6 1254.3 609.5 1256.1 C608.4 1258 605.2 1259.7 603.1 1261.3 C601 1262.8 598.8 1264 596.9 1265.3 C595 1266.5 592.6 1268.3 591.7 1268.9" fill="none" stroke="#c8c8c8" stroke-width="0.8" opacity="0.4"/><path d="M455.5 1312 C454.3 1313.5 451.2 1318.7 448.4 1320.8 C445.7 1322.9 442.1 1323.7 438.9 1324.7 C435.6 1325.7 431.4 1325.4 429 1326.9 C426.6 1328.4 425.1 1332.7 424.3 1333.8" fill="none" stroke="#c8c8c8" stroke-width="1.2" opacity="0.2"/><path d="M603.5 1328.1 C602.6 1329.1 599.9 1331.4 598 1334.2 C596.1 1337 593.4 1342.1 592.2 1344.7 C591 1347.2 590.2 1347.4 590.8 1349.7 C591.4 1351.9 595.1 1356.8 595.9 1358.3" fill="none" stroke="#c8c8c8" stroke-width="1.3" opacity="0.3"/><path d="M510.7 1277.6 C509.9 1276.3 507.2 1272.5 505.7 1269.8 C504.2 1267.1 503.2 1263.2 501.6 1261.3 C500 1259.5 498.9 1259.3 496.1 1258.5 C493.3 1257.7 486.7 1256.8 484.8 1256.5" fill="none" stroke="#c8c8c8" stroke-width="1" opacity="0.3"/><path d="M470.9 1210.5 C471.8 1212 474.2 1216.8 476.2 1219.5 C478.2 1222.2 481.2 1223.6 483.1 1226.4 C485 1229.3 487.6 1233.8 487.8 1236.7 C488 1239.6 484.7 1242.5 484.1 1243.6" fill="none" stroke="#c8c8c8" stroke-width="1.3" opacity="0.4"/><path d="M532 1327.5 C530.9 1327.8 527.5 1329.6 525.5 1329.5 C523.6 1329.4 522.6 1326.6 520 1326.9 C517.5 1327.1 513.3 1330.6 510.3 1331.1 C507.3 1331.7 503.4 1330.2 502 1330" fill="none" stroke="#c8c8c8" stroke-width="1.2" opacity="0.2"/><path d="M460.5 1238.5 C460.1 1239.3 458.8 1240.8 458.3 1243.5 C457.8 1246.2 459 1252.1 457.4 1254.8 C455.7 1257.5 450.9 1258.4 448.5 1259.9 C446.1 1261.3 443.7 1262.9 442.8 1263.5" fill="none" stroke="#c8c8c8" stroke-width="1.3" opacity="0.3"/><path d="M561.7 1199.2 C560.9 1200.8 559.3 1206.7 557.2 1208.8 C555 1211 551.3 1210.8 548.6 1212.1 C545.8 1213.4 543.2 1216.1 540.7 1216.6 C538.2 1217.2 534.8 1215.5 533.7 1215.3" fill="none" stroke="#c8c8c8" stroke-width="1.1" opacity="0.3"/><path d="M570.2 1196.5 C570.6 1195.8 571.2 1194 572.7 1192 C574.1 1190 576.2 1186.2 578.7 1184.7 C581.2 1183.2 585.1 1184.1 587.6 1183.1 C590.2 1182 592.8 1179 593.8 1178.2" fill="none" stroke="#c8c8c8" stroke-width="1.3" opacity="0.4"/><path d="M433.7 1209.2 C435 1208.7 439.2 1208.5 441.3 1206.4 C443.5 1204.3 445 1198.9 446.6 1196.6 C448.1 1194.3 449.2 1194 450.8 1192.5 C452.4 1191.1 455.5 1188.7 456.4 1187.9" fill="none" stroke="#c8c8c8" stroke-width="1" opacity="0.2"/><path d="M440.7 1222.6 C439.3 1223.1 434.3 1223.5 432.4 1225.6 C430.5 1227.7 431.3 1232.7 429.3 1235.1 C427.3 1237.5 422.5 1239.4 420.2 1240.2 C417.8 1240.9 416 1239.8 415.1 1239.8" fill="none" stroke="#c8c8c8" stroke-width="1" opacity="0.2"/><path d="M569.2 1221.3 C568.1 1220.1 564.5 1215.6 562.6 1214 C560.7 1212.4 559.8 1212.3 557.9 1211.6 C555.9 1210.9 552.7 1211.2 550.9 1209.9 C549.2 1208.6 547.9 1204.8 547.3 1203.8" fill="none" stroke="#c8c8c8" stroke-width="1.1" opacity="0.3"/></g>
</g>
<text x="409.6" y="1348.5" font-family='"Liberation Sans", sans-serif' font-size="7.2" font-weight="normal" text-anchor="start" fill="#e8e8e8" >SU8000 15.0kV 10.5mm x35.0k SE(UL)</text>
<path d="M584 1337 v2.5 M591 1337 v2.5 M598 1337 v2.5 M605 1337 v2.5 M612 1337 v2.5 M619 1337 v2.5" stroke="#eee" stroke-width="1"/>
<rect x="632.1" y="1182.8" width="216.6" height="167.3" fill="#28061f"/>
<mask id="cmask"><rect x="600" y="1150" width="280" height="230" fill="#d8d8d8"/><path d="M740 1175 L860 1175 L860 1235 L800 1228 L760 1215 Z" fill="#606060" filter="url(#blur8)"/><path d="M690 1215 L760 1225 L860 1262 L860 1300 L780 1290 L700 1250 Z" fill="#fff" filter="url(#blur8)"/><path d="M770 1305 L860 1300 L860 1360 L760 1360 Z" fill="#707070" filter="url(#blur8)"/><path d="M625 1240 L680 1250 L690 1300 L625 1310 Z" fill="#9a9a9a" filter="url(#blur8)"/></mask>
<clipPath id="clipC"><rect x="632.1" y="1182.8" width="216.6" height="167.3"/></clipPath>
<g clip-path="url(#clipC)" mask="url(#cmask)"><rect x="580" y="1120" width="320" height="300" transform="rotate(33 740.4 1266.4)" filter="url(#spk_c)"/></g>
<rect x="632.6" y="1335.1" width="62.1" height="7.1" fill="#000"/>
<rect x="632.6" y="1342.2" width="62.1" height="3.4" fill="#fff"/>
<text x="663.6" y="1340.6" font-family='"Liberation Sans", sans-serif' font-size="4.5" font-weight="normal" text-anchor="middle" fill="#fff" >1 um</text>
<text x="632.8" y="1207" font-family='"Liberation Serif", serif' font-size="31" font-weight="bold" text-anchor="start" fill="#fff" >C</text>
<rect x="406.5" y="1358.3" width="215.7" height="168.2" fill="#020606"/>
<clipPath id="clipN"><rect x="406.5" y="1358.3" width="215.7" height="168.2"/></clipPath>
<g clip-path="url(#clipN)"><rect x="355" y="1295" width="320" height="300" transform="rotate(-28 514.3 1442.4)" filter="url(#spk_n)"/></g>
<rect x="410.7" y="1511.5" width="55.9" height="5.4" fill="#000"/>
<rect x="410.7" y="1516.9" width="55.9" height="5.3" fill="#fff"/>
<text x="438.6" y="1515.8" font-family='"Liberation Sans", sans-serif' font-size="4.5" font-weight="normal" text-anchor="middle" fill="#fff" >1 um</text>
<text x="407.5" y="1385.6" font-family='"Liberation Serif", serif' font-size="31" font-weight="bold" text-anchor="start" fill="#fff" >N</text>
<rect x="632.2" y="1358.8" width="216.5" height="167.7" fill="#070401"/>
<mask id="cumask"><rect x="600" y="1330" width="280" height="230" fill="#6a6a6a"/><path d="M700 1378 L735 1380 L790 1405 L860 1425 L860 1468 L800 1460 L745 1438 L700 1412 Z" fill="#fff" filter="url(#blur8)"/><path d="M615 1435 L660 1450 L715 1490 L730 1545 L615 1545 Z" fill="#fff" filter="url(#blur8)"/><path d="M755 1335 L875 1335 L875 1412 L790 1392 Z" fill="#1a1a1a" filter="url(#blur8)"/><path d="M700 1470 L770 1480 L790 1545 L720 1545 Z" fill="#404040" filter="url(#blur8)"/><path d="M620 1335 L700 1335 L690 1385 L620 1395 Z" fill="#505050" filter="url(#blur8)"/></mask>
<clipPath id="clipU"><rect x="632.2" y="1358.8" width="216.5" height="167.7"/></clipPath>
<g clip-path="url(#clipU)" mask="url(#cumask)"><rect x="580" y="1295" width="320" height="300" transform="rotate(21 740.4 1442.6)" filter="url(#spk_u)"/></g>
<rect x="637.2" y="1512.5" width="61.1" height="5.4" fill="#000"/>
<rect x="636.7" y="1518.1" width="61.6" height="4.7" fill="#fff"/>
<text x="667.5" y="1516.8" font-family='"Liberation Sans", sans-serif' font-size="4.5" font-weight="normal" text-anchor="middle" fill="#fff" >1 um</text>
<text x="632.5" y="1385.6" font-family='"Liberation Serif", serif' font-size="31" font-weight="bold" text-anchor="start" fill="#fff" >Cu</text>
</svg></body></html>
